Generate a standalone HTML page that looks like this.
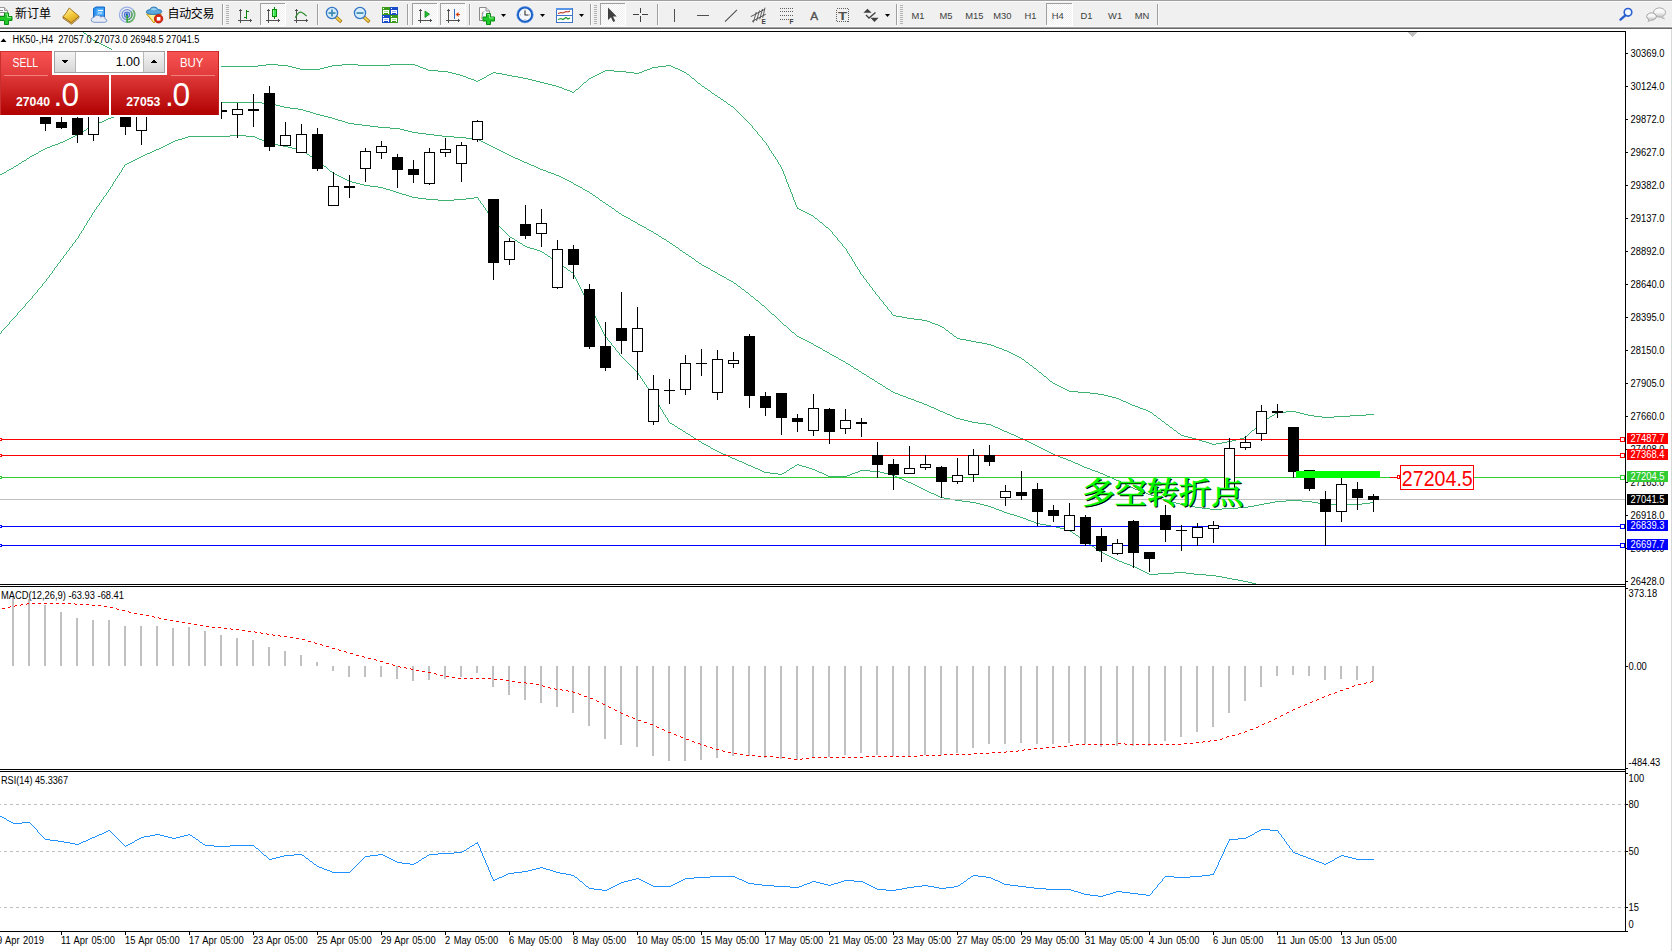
<!DOCTYPE html><html><head><meta charset="utf-8"><title>HK50-,H4</title><style>
html,body{margin:0;padding:0;background:#fff}body{width:1672px;height:951px;overflow:hidden;position:relative}
svg{position:absolute;left:0;top:0;font-family:"Liberation Sans","Noto Sans CJK SC",sans-serif}
.c{shape-rendering:crispEdges}.cn{font-family:"Liberation Sans","Noto Sans CJK SC",sans-serif}
</style></head><body>
<svg width="1672" height="951" viewBox="0 0 1672 951">
<defs>
<linearGradient id="gtab" x1="0" y1="0" x2="0" y2="1"><stop offset="0" stop-color="#f95454"/><stop offset="1" stop-color="#e03a3a"/></linearGradient>
<linearGradient id="gbig" x1="0" y1="0" x2="0" y2="1"><stop offset="0" stop-color="#e03a3a"/><stop offset="1" stop-color="#b00000"/></linearGradient>
<linearGradient id="gbtn" x1="0" y1="0" x2="0" y2="1"><stop offset="0" stop-color="#f4f4f4"/><stop offset="1" stop-color="#d6d6d6"/></linearGradient>
<linearGradient id="gbook" x1="0.2" y1="0" x2="0.8" y2="1"><stop offset="0" stop-color="#fff4a8"/><stop offset="0.5" stop-color="#f2c838"/><stop offset="1" stop-color="#d49a1c"/></linearGradient>
<linearGradient id="gchat" x1="0" y1="0" x2="0" y2="1"><stop offset="0" stop-color="#ffffff"/><stop offset="0.5" stop-color="#f4f4f4"/><stop offset="1" stop-color="#c0c0c0"/></linearGradient>
<clipPath id="cm"><rect x="0" y="32" width="1625" height="552"/></clipPath>
<clipPath id="cd"><rect x="0" y="931" width="1672" height="20"/></clipPath>
<pattern id="chk" width="2" height="2" patternUnits="userSpaceOnUse"><rect width="2" height="2" fill="#fff"/><rect width="1" height="1" fill="#f0f0f0"/><rect x="1" y="1" width="1" height="1" fill="#f0f0f0"/></pattern>
</defs>
<g class="c">
<rect x="0" y="0" width="1672" height="951" fill="#fff" />
<rect x="0" y="0" width="1672" height="26" fill="#f0f0f0" />
<rect x="0" y="0" width="1672" height="1" fill="#a0a0a0" />
<rect x="0" y="1" width="1672" height="1" fill="#fbfbfb" />
<rect x="0" y="26" width="1672" height="1" fill="#f8f8f8" />
<rect x="0" y="27" width="1672" height="1" fill="#a0a0a0" />
<rect x="0" y="28" width="1672" height="1" fill="#696969" />
<rect x="0" y="31" width="1626" height="1" fill="#000" />
<rect x="0" y="584" width="1626" height="1" fill="#000" />
<rect x="0" y="586" width="1626" height="1" fill="#000" />
<rect x="0" y="769" width="1626" height="1" fill="#000" />
<rect x="0" y="771" width="1626" height="1" fill="#000" />
<rect x="0" y="931" width="1626" height="1" fill="#000" />
<rect x="1625" y="31" width="1" height="901" fill="#000" />
<rect x="1671" y="29" width="1" height="922" fill="#d8d8d8" />
<polygon points="1407.5,32 1417,32 1412.2,37" fill="#c0c0c0"/>
</g>
<g clip-path="url(#cm)" class="c">
<path d="M83 32.5h1M84 33.5h2M86 34.5h1M87 35.5h1M88 36.5h1M89 37.5h1M90 38.5h2M92 39.5h1M93 40.5h2M95 41.5h2M97 42.5h2M99 43.5h2M101 44.5h2M103 45.5h2M105 46.5h2M107 47.5h2M109 48.5h2M111 49.5h1M112 50.5h1M113 51.5h1M266 64.5h12M342 64.5h16M390 64.5h25M258 65.5h8M278 65.5h10M332 65.5h10M358 65.5h32M415 65.5h3M666 65.5h5M214 66.5h44M288 66.5h4M328 66.5h4M418 66.5h2M658 66.5h8M671 66.5h2M292 67.5h4M324 67.5h4M420 67.5h3M652 67.5h6M673 67.5h2M296 68.5h4M320 68.5h4M423 68.5h3M650 68.5h2M675 68.5h3M300 69.5h20M426 69.5h2M647 69.5h3M678 69.5h2M428 70.5h10M605 70.5h9M644 70.5h3M680 70.5h2M438 71.5h10M603 71.5h2M614 71.5h12M642 71.5h2M682 71.5h2M448 72.5h4M493 72.5h3M601 72.5h2M626 72.5h8M639 72.5h3M684 72.5h2M452 73.5h4M491 73.5h2M496 73.5h6M599 73.5h2M634 73.5h5M686 73.5h1M456 74.5h4M489 74.5h2M502 74.5h5M597 74.5h2M687 74.5h2M460 75.5h3M487 75.5h2M507 75.5h5M595 75.5h2M689 75.5h1M463 76.5h3M486 76.5h1M512 76.5h6M593 76.5h2M690 76.5h1M466 77.5h2M484 77.5h2M518 77.5h5M591 77.5h2M691 77.5h1M468 78.5h3M482 78.5h2M523 78.5h5M589 78.5h2M692 78.5h2M471 79.5h3M480 79.5h2M528 79.5h4M588 79.5h1M694 79.5h1M474 80.5h2M478 80.5h2M532 80.5h4M587 80.5h1M695 80.5h1M476 81.5h2M536 81.5h4M586 81.5h1M696 81.5h1M540 82.5h4M584 82.5h2M697 82.5h1M544 83.5h4M583 83.5h1M698 83.5h2M548 84.5h4M582 84.5h1M700 84.5h1M552 85.5h4M581 85.5h1M701 85.5h1M556 86.5h3M580 86.5h1M702 86.5h2M559 87.5h3M579 87.5h1M704 87.5h1M562 88.5h2M578 88.5h1M705 88.5h2M564 89.5h3M576 89.5h2M707 89.5h1M567 90.5h3M575 90.5h1M708 90.5h2M570 91.5h2M574 91.5h1M710 91.5h1M572 92.5h2M711 92.5h1M712 93.5h2M714 94.5h1M715 95.5h2M717 96.5h1M718 97.5h2M720 98.5h1M721 99.5h2M723 100.5h1M724 101.5h2M202 102.5h60M726 102.5h1M194 103.5h8M262 103.5h10M727 103.5h1M186 104.5h8M272 104.5h4M728 104.5h2M178 105.5h8M276 105.5h4M730 105.5h1M170 106.5h8M280 106.5h4M731 106.5h2M162 107.5h8M284 107.5h6M733 107.5h1M154 108.5h8M290 108.5h8M734 108.5h1M146 109.5h8M298 109.5h5M735 109.5h1M139 110.5h7M303 110.5h3M736 110.5h1M134 111.5h5M306 111.5h4M737 111.5h1M128 112.5h6M310 112.5h3M738 112.5h1M124 113.5h4M313 113.5h3M739 113.5h1M121 114.5h3M316 114.5h4M740 114.5h1M118 115.5h3M320 115.5h4M741 115.5h1M114 116.5h4M324 116.5h4M742 116.5h1M111 117.5h3M328 117.5h4M743 117.5h1M108 118.5h3M332 118.5h3M744 118.5h1M106 119.5h2M335 119.5h3M745 119.5h1M104 120.5h2M338 120.5h4M746 120.5h1M102 121.5h2M342 121.5h3M747 121.5h1M99 122.5h3M345 122.5h3M748 122.5h1M97 123.5h2M348 123.5h6M749 123.5h1M95 124.5h2M354 124.5h8M750 124.5h1M93 125.5h2M362 125.5h8M751 125.5h1M91 126.5h2M370 126.5h8M752.5 126v2M89 127.5h2M378 127.5h12M87 128.5h2M390 128.5h10M753 128.5h1M86 129.5h1M400 129.5h4M754 129.5h1M84 130.5h2M404 130.5h4M755 130.5h1M82 131.5h2M408 131.5h4M756 131.5h1M80 132.5h2M412 132.5h6M757.5 132v2M78 133.5h2M418 133.5h8M77 134.5h1M426 134.5h8M758 134.5h1M75 135.5h2M230 135.5h16M434 135.5h8M759 135.5h1M73 136.5h2M188 136.5h42M246 136.5h9M442 136.5h12M760 136.5h1M71 137.5h2M185 137.5h3M255 137.5h2M454 137.5h12M761 137.5h1M69 138.5h2M182 138.5h3M257 138.5h2M466 138.5h8M762.5 138v2M67 139.5h2M178 139.5h4M259 139.5h3M474 139.5h5M65 140.5h2M175 140.5h3M262 140.5h2M479 140.5h2M763 140.5h1M63 141.5h2M173 141.5h2M264 141.5h2M481 141.5h2M764 141.5h1M60 142.5h3M171 142.5h2M266 142.5h2M483 142.5h2M765 142.5h1M58 143.5h2M169 143.5h2M268 143.5h4M485 143.5h2M766.5 143v2M55 144.5h3M167 144.5h2M272 144.5h6M487 144.5h2M52 145.5h3M165 145.5h2M278 145.5h5M489 145.5h2M767 145.5h1M50 146.5h2M163 146.5h2M283 146.5h5M491 146.5h2M768.5 146v2M47 147.5h3M161 147.5h2M288 147.5h4M493 147.5h2M45 148.5h2M159 148.5h2M292 148.5h4M495 148.5h2M769.5 148v2M43 149.5h2M156 149.5h3M296 149.5h4M497 149.5h2M41 150.5h2M154 150.5h2M300 150.5h2M499 150.5h2M770 150.5h1M39 151.5h2M152 151.5h2M302 151.5h2M501 151.5h2M771.5 151v2M38 152.5h1M150 152.5h2M304 152.5h2M503 152.5h2M36 153.5h2M147 153.5h3M306 153.5h1M505 153.5h2M772 153.5h1M34 154.5h2M145 154.5h2M307 154.5h2M507 154.5h2M773.5 154v2M32 155.5h2M143 155.5h2M309 155.5h1M509 155.5h2M30 156.5h2M141 156.5h2M310 156.5h2M511 156.5h2M774 156.5h1M29 157.5h1M139 157.5h2M312 157.5h2M513 157.5h2M775.5 157v2M27 158.5h2M137 158.5h2M314 158.5h1M515 158.5h3M26 159.5h1M135 159.5h2M315 159.5h2M518 159.5h2M776 159.5h1M24 160.5h2M133 160.5h2M317 160.5h1M520 160.5h2M777.5 160v2M22 161.5h2M131 161.5h2M318 161.5h1M522 161.5h2M21 162.5h1M129 162.5h2M319 162.5h2M524 162.5h3M778.5 162v2M19 163.5h2M127 163.5h2M321 163.5h1M527 163.5h2M18 164.5h1M125 164.5h2M322 164.5h1M529 164.5h2M779 164.5h1M16 165.5h2M124.5 165v2M323 165.5h1M531 165.5h3M780.5 165v2M14 166.5h2M324 166.5h2M534 166.5h2M13 167.5h1M123 167.5h1M326 167.5h1M536 167.5h2M781.5 167v2M11 168.5h2M122.5 168v2M327 168.5h1M538 168.5h2M9 169.5h2M328 169.5h1M540 169.5h3M782.5 169v2M7 170.5h2M121.5 170v2M329 170.5h1M543 170.5h3M6 171.5h1M330 171.5h2M546 171.5h2M783.5 171v3M4 172.5h2M120 172.5h1M332 172.5h1M548 172.5h3M2 173.5h2M119.5 173v2M333 173.5h2M551 173.5h3M0 174.5h2M335 174.5h2M554 174.5h2M784.5 174v2M118 175.5h1M337 175.5h2M556 175.5h3M117.5 176v2M339 176.5h2M559 176.5h2M785.5 176v3M341 177.5h2M561 177.5h2M116 178.5h1M343 178.5h2M563 178.5h2M115.5 179v2M345 179.5h2M565 179.5h2M786.5 179v3M347 180.5h2M567 180.5h2M114 181.5h1M349 181.5h3M569 181.5h2M113.5 182v2M352 182.5h4M571 182.5h2M787.5 182v2M356 183.5h4M573 183.5h1M112.5 184v2M360 184.5h4M574 184.5h2M788.5 184v3M364 185.5h6M576 185.5h2M111 186.5h1M370 186.5h8M578 186.5h2M110.5 187v2M378 187.5h5M580 187.5h2M789.5 187v2M383 188.5h3M582 188.5h1M109 189.5h1M386 189.5h4M583 189.5h2M790.5 189v3M108.5 190v2M390 190.5h3M585 190.5h2M393 191.5h3M587 191.5h2M107 192.5h1M396 192.5h3M589 192.5h1M791.5 192v2M106.5 193v2M399 193.5h3M590 193.5h2M402 194.5h4M592 194.5h1M792.5 194v3M105 195.5h1M406 195.5h3M593 195.5h2M104 196.5h1M409 196.5h3M595 196.5h1M103.5 197v2M412 197.5h6M474 197.5h4M596 197.5h2M793.5 197v3M418 198.5h8M466 198.5h8M478.5 198v2M598 198.5h1M102 199.5h1M426 199.5h12M454 199.5h12M599 199.5h1M101.5 200v2M438 200.5h16M479 200.5h1M600 200.5h2M794.5 200v2M480.5 201v2M602 201.5h1M100 202.5h1M603 202.5h2M795.5 202v3M99.5 203v2M481 203.5h1M605 203.5h1M482 204.5h1M606 204.5h2M98 205.5h1M483.5 205v2M608 205.5h1M796.5 205v2M97 206.5h1M609 206.5h2M96.5 207v2M484 207.5h1M611 207.5h1M797.5 207v2M485.5 208v2M612 208.5h2M798 208.5h1M95 209.5h1M614 209.5h1M799 209.5h2M94.5 210v2M486 210.5h1M615 210.5h1M801 210.5h2M487.5 211v2M616 211.5h2M803 211.5h2M93 212.5h1M618 212.5h1M805 212.5h2M92.5 213v2M488 213.5h1M619 213.5h2M807 213.5h2M489 214.5h1M621 214.5h1M809 214.5h2M91.5 215v2M490.5 215v2M622 215.5h2M811 215.5h2M624 216.5h2M813 216.5h1M90 217.5h1M491 217.5h1M626 217.5h2M814 217.5h1M89.5 218v2M492.5 218v2M628 218.5h2M815 218.5h2M630 219.5h1M817 219.5h1M88 220.5h1M493 220.5h1M631 220.5h2M818 220.5h1M87.5 221v2M494 221.5h1M633 221.5h2M819 221.5h1M495 222.5h1M635 222.5h2M820 222.5h2M86.5 223v2M496 223.5h1M637 223.5h1M822 223.5h1M497 224.5h1M638 224.5h2M823 224.5h1M85 225.5h1M498 225.5h1M640 225.5h2M824 225.5h1M84.5 226v2M499 226.5h1M642 226.5h2M825 226.5h1M500 227.5h1M644 227.5h2M826 227.5h2M83.5 228v2M501 228.5h1M646 228.5h1M828 228.5h1M502 229.5h1M647 229.5h2M829 229.5h1M82 230.5h1M503 230.5h1M649 230.5h2M830 230.5h1M81.5 231v2M504 231.5h1M651 231.5h2M831 231.5h1M505 232.5h1M653 232.5h1M832.5 232v2M80 233.5h1M506 233.5h1M654 233.5h2M79.5 234v2M507 234.5h1M656 234.5h2M833 234.5h1M508 235.5h1M658 235.5h1M834 235.5h1M78.5 236v2M509 236.5h1M659 236.5h2M835 236.5h1M510 237.5h2M661 237.5h1M836 237.5h1M77 238.5h1M512 238.5h2M662 238.5h2M837.5 238v2M76 239.5h1M514 239.5h1M664 239.5h2M75.5 240v2M515 240.5h2M666 240.5h1M838 240.5h1M517 241.5h1M667 241.5h2M839 241.5h1M74 242.5h1M518 242.5h2M669 242.5h1M840 242.5h1M73 243.5h1M520 243.5h2M670 243.5h2M841 243.5h1M72.5 244v2M522 244.5h1M672 244.5h1M842.5 244v2M523 245.5h2M673 245.5h2M71 246.5h1M525 246.5h2M675 246.5h1M843 246.5h1M70 247.5h1M527 247.5h3M676 247.5h2M844 247.5h1M69.5 248v2M530 248.5h4M678 248.5h1M845 248.5h1M534 249.5h3M679 249.5h1M846.5 249v2M68 250.5h1M537 250.5h3M680 250.5h2M67 251.5h1M540 251.5h2M682 251.5h1M847.5 251v2M66.5 252v2M542 252.5h2M683 252.5h2M544 253.5h1M685 253.5h1M848 253.5h1M65 254.5h1M545 254.5h2M686 254.5h2M849.5 254v2M64 255.5h1M547 255.5h1M688 255.5h1M63.5 256v2M548 256.5h2M689 256.5h2M850 256.5h1M550 257.5h1M691 257.5h1M851.5 257v2M62 258.5h1M551 258.5h1M692 258.5h2M61 259.5h1M552 259.5h2M694 259.5h1M852.5 259v2M60.5 260v2M554 260.5h1M695 260.5h1M555 261.5h2M696 261.5h2M853 261.5h1M59 262.5h1M557 262.5h1M698 262.5h1M854.5 262v2M58 263.5h1M558 263.5h2M699 263.5h2M57.5 264v2M560 264.5h1M701 264.5h1M855.5 264v2M561 265.5h2M702 265.5h2M56 266.5h1M563 266.5h1M704 266.5h2M856 266.5h1M55 267.5h1M564 267.5h2M706 267.5h2M857.5 267v2M54.5 268v2M566 268.5h1M708 268.5h2M567 269.5h1M710 269.5h1M858 269.5h1M53 270.5h1M568 270.5h2M711 270.5h2M859.5 270v2M52.5 271v2M570 271.5h1M713 271.5h2M571 272.5h2M715 272.5h2M860.5 272v2M51 273.5h1M573.5 273v2M717 273.5h1M50 274.5h1M718 274.5h2M861 274.5h1M49.5 275v2M574.5 275v2M720 275.5h2M862 275.5h1M722 276.5h2M863.5 276v2M48 277.5h1M575.5 277v2M724 277.5h2M47 278.5h1M726 278.5h1M864 278.5h1M46.5 279v2M576.5 279v2M727 279.5h2M865 279.5h1M729 280.5h2M866.5 280v2M45 281.5h1M577.5 281v2M731 281.5h2M44 282.5h1M733 282.5h1M867 282.5h1M43 283.5h1M578.5 283v2M734 283.5h2M868 283.5h1M42.5 284v2M736 284.5h1M869.5 284v2M579.5 285v2M737 285.5h1M41 286.5h1M738 286.5h2M870 286.5h1M40 287.5h1M580.5 287v2M740 287.5h1M871 287.5h1M39 288.5h1M741 288.5h1M872.5 288v2M38 289.5h1M581.5 289v2M742 289.5h2M37.5 290v2M744 290.5h1M873 290.5h1M582.5 291v2M745 291.5h1M874 291.5h1M36 292.5h1M746 292.5h2M875.5 292v2M35 293.5h1M583.5 293v2M748 293.5h1M34 294.5h1M749 294.5h1M876 294.5h1M33 295.5h1M584.5 295v2M750 295.5h1M877 295.5h1M32.5 296v2M751 296.5h2M878 296.5h1M585.5 297v2M753 297.5h1M879.5 297v2M31 298.5h1M754 298.5h1M30 299.5h1M586.5 299v2M755 299.5h1M880 299.5h1M29 300.5h1M756 300.5h2M881 300.5h1M28 301.5h1M587.5 301v2M758 301.5h1M882 301.5h1M27 302.5h1M759 302.5h1M883.5 302v2M26 303.5h1M588.5 303v2M760 303.5h1M25.5 304v2M761 304.5h1M884 304.5h1M589 305.5h1M762 305.5h2M885 305.5h1M24 306.5h1M590.5 306v2M764 306.5h1M886 306.5h1M23 307.5h1M765 307.5h1M887.5 307v2M22 308.5h1M591.5 308v2M766 308.5h1M21 309.5h1M767 309.5h1M888 309.5h1M20 310.5h1M592.5 310v2M768 310.5h1M889 310.5h1M19 311.5h1M769 311.5h1M890 311.5h1M18 312.5h1M593.5 312v2M770 312.5h1M891.5 312v2M17.5 313v2M771 313.5h1M594.5 314v2M772 314.5h2M892 314.5h1M16 315.5h1M774 315.5h1M893 315.5h3M15 316.5h1M595.5 316v2M775 316.5h1M896 316.5h6M14 317.5h1M776 317.5h1M902 317.5h5M13 318.5h1M596.5 318v2M777 318.5h1M907 318.5h7M12 319.5h1M778 319.5h1M914 319.5h8M11 320.5h1M597.5 320v2M779 320.5h1M922 320.5h5M10 321.5h1M780 321.5h1M927 321.5h3M9.5 322v2M598.5 322v2M781 322.5h1M930 322.5h2M782 323.5h1M932 323.5h3M8 324.5h1M599.5 324v2M783 324.5h1M935 324.5h3M7 325.5h1M784 325.5h2M938 325.5h2M6 326.5h1M600.5 326v2M786 326.5h1M940 326.5h2M5 327.5h1M787 327.5h1M942 327.5h2M4 328.5h1M601.5 328v2M788 328.5h1M944 328.5h1M3 329.5h1M789 329.5h1M945 329.5h1M2 330.5h1M602.5 330v2M790 330.5h1M946 330.5h2M1.5 331v2M791 331.5h1M948 331.5h1M603.5 332v2M792 332.5h2M949 332.5h1M0 333.5h1M794 333.5h1M950 333.5h2M604.5 334v2M795 334.5h1M952 334.5h1M796 335.5h1M953 335.5h1M605 336.5h1M797 336.5h2M954 336.5h2M606 337.5h1M799 337.5h2M956 337.5h1M607.5 338v2M801 338.5h2M957 338.5h3M803 339.5h2M960 339.5h6M608 340.5h1M805 340.5h2M966 340.5h5M609 341.5h1M807 341.5h2M971 341.5h5M610 342.5h1M809 342.5h2M976 342.5h6M611.5 343v2M811 343.5h2M982 343.5h5M813 344.5h1M987 344.5h4M612 345.5h1M814 345.5h2M991 345.5h3M613 346.5h1M816 346.5h2M994 346.5h2M614 347.5h1M818 347.5h2M996 347.5h3M615.5 348v2M820 348.5h2M999 348.5h3M822 349.5h1M1002 349.5h2M616 350.5h1M823 350.5h2M1004 350.5h3M617 351.5h1M825 351.5h2M1007 351.5h2M618 352.5h1M827 352.5h2M1009 352.5h2M619.5 353v2M829 353.5h1M1011 353.5h2M830 354.5h2M1013 354.5h2M620 355.5h1M832 355.5h2M1015 355.5h2M621 356.5h1M834 356.5h2M1017 356.5h2M622 357.5h1M836 357.5h2M1019 357.5h2M623 358.5h1M838 358.5h1M1021 358.5h1M624 359.5h1M839 359.5h2M1022 359.5h2M625 360.5h1M841 360.5h2M1024 360.5h1M626 361.5h1M843 361.5h2M1025 361.5h1M627 362.5h1M845 362.5h1M1026 362.5h2M628 363.5h1M846 363.5h2M1028 363.5h1M629 364.5h1M848 364.5h2M1029 364.5h1M630 365.5h1M850 365.5h1M1030 365.5h2M631 366.5h1M851 366.5h2M1032 366.5h1M632 367.5h1M853 367.5h1M1033 367.5h1M633 368.5h1M854 368.5h2M1034 368.5h2M634 369.5h1M856 369.5h2M1036 369.5h1M635 370.5h1M858 370.5h1M1037 370.5h1M636 371.5h1M859 371.5h2M1038 371.5h1M637 372.5h1M861 372.5h1M1039 372.5h2M638.5 373v2M862 373.5h2M1041 373.5h1M864 374.5h2M1042 374.5h1M639 375.5h1M866 375.5h1M1043 375.5h1M640.5 376v2M867 376.5h2M1044 376.5h2M869 377.5h1M1046 377.5h1M641 378.5h1M870 378.5h2M1047 378.5h1M642.5 379v2M872 379.5h2M1048 379.5h1M874 380.5h1M1049 380.5h1M643 381.5h1M875 381.5h2M1050 381.5h2M644.5 382v2M877 382.5h1M1052 382.5h1M878 383.5h2M1053 383.5h2M645 384.5h1M880 384.5h2M1055 384.5h2M646.5 385v2M882 385.5h1M1057 385.5h2M883 386.5h2M1059 386.5h2M647 387.5h1M885 387.5h1M1061 387.5h2M648.5 388v2M886 388.5h2M1063 388.5h2M888 389.5h2M1065 389.5h2M649 390.5h1M890 390.5h1M1067 390.5h2M650.5 391v2M891 391.5h2M1069 391.5h9M893 392.5h2M1078 392.5h12M651 393.5h1M895 393.5h3M1090 393.5h8M652.5 394v2M898 394.5h2M1098 394.5h6M900 395.5h3M1104 395.5h4M653 396.5h1M903 396.5h3M1108 396.5h4M654.5 397v2M906 397.5h2M1112 397.5h4M908 398.5h3M1116 398.5h3M655.5 399v2M911 399.5h3M1119 399.5h2M914 400.5h2M1121 400.5h2M656 401.5h1M916 401.5h3M1123 401.5h3M657.5 402v2M919 402.5h3M1126 402.5h2M922 403.5h2M1128 403.5h2M658 404.5h1M924 404.5h3M1130 404.5h2M659.5 405v2M927 405.5h2M1132 405.5h3M929 406.5h2M1135 406.5h3M660.5 407v2M931 407.5h3M1138 407.5h2M934 408.5h2M1140 408.5h3M661 409.5h1M936 409.5h2M1143 409.5h3M662.5 410v2M938 410.5h2M1146 410.5h2M940 411.5h3M1148 411.5h2M1286 411.5h10M663.5 412v2M943 412.5h2M1150 412.5h2M1277 412.5h9M1296 412.5h4M945 413.5h2M1152 413.5h1M1275 413.5h2M1300 413.5h4M664 414.5h1M947 414.5h3M1153 414.5h1M1274 414.5h1M1304 414.5h4M1366 414.5h8M665.5 415v2M950 415.5h2M1154 415.5h2M1272 415.5h2M1308 415.5h6M1350 415.5h16M952 416.5h2M1156 416.5h1M1270 416.5h2M1314 416.5h8M1334 416.5h16M666 417.5h1M954 417.5h2M1157 417.5h1M1269 417.5h1M1322 417.5h12M667.5 418v2M956 418.5h4M1158 418.5h2M1267 418.5h2M960 419.5h4M1160 419.5h1M1266 419.5h1M668.5 420v2M964 420.5h4M1161 420.5h1M1264 420.5h2M968 421.5h4M1162 421.5h2M1262 421.5h2M669 422.5h1M972 422.5h6M1164 422.5h1M1261 422.5h1M670 423.5h2M978 423.5h8M1165 423.5h1M1260 423.5h1M672 424.5h2M986 424.5h5M1166 424.5h2M1259 424.5h1M674 425.5h1M991 425.5h2M1168 425.5h1M1258 425.5h1M675 426.5h2M993 426.5h2M1169 426.5h1M1257 426.5h1M677 427.5h1M995 427.5h3M1170 427.5h2M1256 427.5h1M678 428.5h2M998 428.5h2M1172 428.5h1M1255 428.5h1M680 429.5h2M1000 429.5h2M1173 429.5h1M1254 429.5h1M682 430.5h1M1002 430.5h2M1174 430.5h2M1252 430.5h2M683 431.5h2M1004 431.5h3M1176 431.5h1M1251 431.5h1M685 432.5h1M1007 432.5h2M1177 432.5h1M1250 432.5h1M686 433.5h2M1009 433.5h2M1178 433.5h2M1249 433.5h1M688 434.5h2M1011 434.5h3M1180 434.5h1M1248 434.5h1M690 435.5h1M1014 435.5h2M1181 435.5h3M1247 435.5h1M691 436.5h2M1016 436.5h2M1184 436.5h4M1246 436.5h1M693 437.5h1M1018 437.5h2M1188 437.5h4M1244 437.5h2M694 438.5h2M1020 438.5h3M1192 438.5h4M1240 438.5h4M696 439.5h2M1023 439.5h2M1196 439.5h3M1236 439.5h4M698 440.5h1M1025 440.5h2M1199 440.5h3M1232 440.5h4M699 441.5h2M1027 441.5h2M1202 441.5h4M1227 441.5h5M701 442.5h1M1029 442.5h2M1206 442.5h3M1222 442.5h5M702 443.5h2M1031 443.5h2M1209 443.5h3M1216 443.5h6M704 444.5h2M1033 444.5h2M1212 444.5h4M706 445.5h2M1035 445.5h2M708 446.5h2M1037 446.5h2M710 447.5h1M1039 447.5h2M711 448.5h2M1041 448.5h2M713 449.5h2M1043 449.5h2M715 450.5h2M1045 450.5h2M717 451.5h2M1047 451.5h2M719 452.5h2M1049 452.5h2M721 453.5h2M1051 453.5h2M723 454.5h3M1053 454.5h2M726 455.5h2M1055 455.5h3M728 456.5h2M1058 456.5h2M730 457.5h2M1060 457.5h3M732 458.5h3M1063 458.5h3M735 459.5h2M1066 459.5h2M737 460.5h2M1068 460.5h3M739 461.5h3M1071 461.5h2M742 462.5h2M1073 462.5h2M744 463.5h2M1075 463.5h3M746 464.5h2M797 464.5h2M1078 464.5h2M748 465.5h3M795 465.5h2M799 465.5h3M1080 465.5h2M751 466.5h2M794 466.5h1M802 466.5h4M1082 466.5h2M753 467.5h2M792 467.5h2M806 467.5h3M1084 467.5h3M755 468.5h3M790 468.5h2M809 468.5h3M1087 468.5h3M758 469.5h2M789 469.5h1M812 469.5h3M1090 469.5h2M760 470.5h2M787 470.5h2M815 470.5h2M860 470.5h10M1092 470.5h3M762 471.5h2M786 471.5h1M817 471.5h2M858 471.5h2M870 471.5h10M1095 471.5h3M764 472.5h6M784 472.5h2M819 472.5h3M855 472.5h3M880 472.5h4M1098 472.5h2M770 473.5h8M782 473.5h2M822 473.5h2M852 473.5h3M884 473.5h4M1100 473.5h3M778 474.5h4M824 474.5h2M850 474.5h2M888 474.5h4M1103 474.5h2M826 475.5h2M847 475.5h3M892 475.5h3M1105 475.5h2M828 476.5h19M895 476.5h2M1107 476.5h3M897 477.5h2M1110 477.5h2M899 478.5h3M1112 478.5h2M902 479.5h2M1114 479.5h2M904 480.5h2M1116 480.5h3M906 481.5h2M1119 481.5h2M908 482.5h3M1121 482.5h2M911 483.5h2M1123 483.5h2M913 484.5h2M1125 484.5h2M915 485.5h2M1127 485.5h2M917 486.5h2M1129 486.5h2M919 487.5h2M1131 487.5h2M921 488.5h2M1133 488.5h2M923 489.5h2M1135 489.5h3M925 490.5h2M1138 490.5h2M927 491.5h2M1140 491.5h3M929 492.5h2M1143 492.5h3M931 493.5h3M1146 493.5h2M934 494.5h2M1148 494.5h3M936 495.5h2M1151 495.5h3M938 496.5h2M1154 496.5h2M940 497.5h4M1156 497.5h3M944 498.5h6M1159 498.5h3M950 499.5h5M1162 499.5h2M955 500.5h7M1164 500.5h4M1286 500.5h16M962 501.5h8M1168 501.5h4M1275 501.5h11M1302 501.5h10M970 502.5h6M1172 502.5h4M1270 502.5h5M1312 502.5h6M1370 502.5h4M976 503.5h4M1176 503.5h4M1264 503.5h6M1318 503.5h5M1362 503.5h8M980 504.5h4M1180 504.5h4M1259 504.5h5M1323 504.5h39M984 505.5h4M1184 505.5h6M1254 505.5h5M988 506.5h3M1190 506.5h5M1248 506.5h6M991 507.5h3M1195 507.5h7M1238 507.5h10M994 508.5h2M1202 508.5h8M1222 508.5h16M996 509.5h3M1210 509.5h12M999 510.5h3M1002 511.5h2M1004 512.5h3M1007 513.5h3M1010 514.5h4M1014 515.5h3M1017 516.5h3M1020 517.5h3M1023 518.5h3M1026 519.5h2M1028 520.5h3M1031 521.5h3M1034 522.5h2M1036 523.5h4M1040 524.5h6M1046 525.5h5M1051 526.5h5M1056 527.5h4M1060 528.5h4M1064 529.5h4M1068 530.5h2M1070 531.5h2M1072 532.5h1M1073 533.5h2M1075 534.5h1M1076 535.5h2M1078 536.5h1M1079 537.5h1M1080 538.5h2M1082 539.5h1M1083 540.5h2M1085 541.5h1M1086 542.5h2M1088 543.5h1M1089 544.5h2M1091 545.5h1M1092 546.5h2M1094 547.5h1M1095 548.5h1M1096 549.5h2M1098 550.5h1M1099 551.5h2M1101 552.5h2M1103 553.5h2M1105 554.5h2M1107 555.5h2M1109 556.5h2M1111 557.5h2M1113 558.5h2M1115 559.5h2M1117 560.5h2M1119 561.5h3M1122 562.5h2M1124 563.5h3M1127 564.5h3M1130 565.5h2M1132 566.5h3M1135 567.5h2M1137 568.5h2M1139 569.5h2M1141 570.5h2M1143 571.5h2M1145 572.5h2M1174 572.5h12M1147 573.5h2M1158 573.5h16M1186 573.5h8M1149 574.5h9M1194 574.5h12M1206 575.5h10M1216 576.5h6M1222 577.5h5M1227 578.5h5M1232 579.5h6M1238 580.5h5M1243 581.5h5M1248 582.5h4M1252 583.5h4" fill="none" stroke="#3cb371"/>
<rect x="0" y="499" width="1625" height="1" fill="#c0c0c0" />
<rect x="0" y="439" width="1625" height="1" fill="#ff0000" />
<rect x="0" y="455" width="1625" height="1" fill="#ff0000" />
<rect x="0" y="477" width="1625" height="1" fill="#32cd32" />
<rect x="0" y="526" width="1625" height="1" fill="#0000ff" />
<rect x="0" y="545" width="1625" height="1" fill="#0000ff" />
<rect x="45" y="100" width="1" height="31" fill="#000" />
<rect x="40" y="100" width="11" height="24" fill="#000" />
<rect x="61" y="117" width="1" height="12" fill="#000" />
<rect x="56" y="122" width="11" height="6" fill="#000" />
<rect x="77" y="110" width="1" height="33" fill="#000" />
<rect x="72" y="118" width="11" height="17" fill="#000" />
<rect x="93" y="100" width="1" height="41" fill="#000" />
<rect x="88" y="100" width="11" height="35" fill="#000" />
<rect x="89" y="101" width="9" height="33" fill="#fff" />
<rect x="125" y="100" width="1" height="35" fill="#000" />
<rect x="120" y="100" width="11" height="27" fill="#000" />
<rect x="141" y="100" width="1" height="45" fill="#000" />
<rect x="136" y="100" width="11" height="31" fill="#000" />
<rect x="137" y="101" width="9" height="29" fill="#fff" />
<rect x="221" y="102" width="1" height="17" fill="#000" />
<rect x="216" y="110" width="11" height="2" fill="#000" />
<rect x="237" y="103" width="1" height="35" fill="#000" />
<rect x="232" y="109" width="11" height="6" fill="#000" />
<rect x="233" y="110" width="9" height="4" fill="#fff" />
<rect x="253" y="94" width="1" height="33" fill="#000" />
<rect x="248" y="109" width="11" height="2" fill="#000" />
<rect x="269" y="86" width="1" height="65" fill="#000" />
<rect x="264" y="93" width="11" height="54" fill="#000" />
<rect x="285" y="122" width="1" height="24" fill="#000" />
<rect x="280" y="135" width="11" height="11" fill="#000" />
<rect x="281" y="136" width="9" height="9" fill="#fff" />
<rect x="301" y="124" width="1" height="29" fill="#000" />
<rect x="296" y="134" width="11" height="19" fill="#000" />
<rect x="297" y="135" width="9" height="17" fill="#fff" />
<rect x="317" y="128" width="1" height="43" fill="#000" />
<rect x="312" y="134" width="11" height="35" fill="#000" />
<rect x="333" y="172" width="1" height="34" fill="#000" />
<rect x="328" y="186" width="11" height="20" fill="#000" />
<rect x="329" y="187" width="9" height="18" fill="#fff" />
<rect x="349" y="175" width="1" height="23" fill="#000" />
<rect x="344" y="186" width="11" height="2" fill="#000" />
<rect x="365" y="148" width="1" height="34" fill="#000" />
<rect x="360" y="151" width="11" height="18" fill="#000" />
<rect x="361" y="152" width="9" height="16" fill="#fff" />
<rect x="381" y="141" width="1" height="18" fill="#000" />
<rect x="376" y="146" width="11" height="7" fill="#000" />
<rect x="377" y="147" width="9" height="5" fill="#fff" />
<rect x="397" y="154" width="1" height="34" fill="#000" />
<rect x="392" y="157" width="11" height="13" fill="#000" />
<rect x="413" y="160" width="1" height="23" fill="#000" />
<rect x="408" y="169" width="11" height="6" fill="#000" />
<rect x="429" y="148" width="1" height="37" fill="#000" />
<rect x="424" y="152" width="11" height="32" fill="#000" />
<rect x="425" y="153" width="9" height="30" fill="#fff" />
<rect x="445" y="138" width="1" height="19" fill="#000" />
<rect x="440" y="149" width="11" height="4" fill="#000" />
<rect x="441" y="150" width="9" height="2" fill="#fff" />
<rect x="461" y="142" width="1" height="40" fill="#000" />
<rect x="456" y="145" width="11" height="19" fill="#000" />
<rect x="457" y="146" width="9" height="17" fill="#fff" />
<rect x="477" y="120" width="1" height="22" fill="#000" />
<rect x="472" y="121" width="11" height="19" fill="#000" />
<rect x="473" y="122" width="9" height="17" fill="#fff" />
<rect x="493" y="199" width="1" height="81" fill="#000" />
<rect x="488" y="199" width="11" height="64" fill="#000" />
<rect x="509" y="238" width="1" height="27" fill="#000" />
<rect x="504" y="241" width="11" height="19" fill="#000" />
<rect x="505" y="242" width="9" height="17" fill="#fff" />
<rect x="525" y="205" width="1" height="34" fill="#000" />
<rect x="520" y="224" width="11" height="12" fill="#000" />
<rect x="541" y="209" width="1" height="38" fill="#000" />
<rect x="536" y="223" width="11" height="11" fill="#000" />
<rect x="537" y="224" width="9" height="9" fill="#fff" />
<rect x="557" y="240" width="1" height="49" fill="#000" />
<rect x="552" y="249" width="11" height="39" fill="#000" />
<rect x="553" y="250" width="9" height="37" fill="#fff" />
<rect x="573" y="245" width="1" height="34" fill="#000" />
<rect x="568" y="249" width="11" height="16" fill="#000" />
<rect x="589" y="284" width="1" height="65" fill="#000" />
<rect x="584" y="289" width="11" height="58" fill="#000" />
<rect x="605" y="322" width="1" height="49" fill="#000" />
<rect x="600" y="346" width="11" height="22" fill="#000" />
<rect x="621" y="292" width="1" height="62" fill="#000" />
<rect x="616" y="328" width="11" height="13" fill="#000" />
<rect x="637" y="307" width="1" height="73" fill="#000" />
<rect x="632" y="328" width="11" height="24" fill="#000" />
<rect x="633" y="329" width="9" height="22" fill="#fff" />
<rect x="653" y="375" width="1" height="50" fill="#000" />
<rect x="648" y="389" width="11" height="33" fill="#000" />
<rect x="649" y="390" width="9" height="31" fill="#fff" />
<rect x="669" y="379" width="1" height="25" fill="#000" />
<rect x="664" y="390" width="11" height="1" fill="#000" />
<rect x="685" y="355" width="1" height="40" fill="#000" />
<rect x="680" y="363" width="11" height="27" fill="#000" />
<rect x="681" y="364" width="9" height="25" fill="#fff" />
<rect x="701" y="349" width="1" height="27" fill="#000" />
<rect x="696" y="363" width="11" height="1" fill="#000" />
<rect x="717" y="350" width="1" height="50" fill="#000" />
<rect x="712" y="359" width="11" height="34" fill="#000" />
<rect x="713" y="360" width="9" height="32" fill="#fff" />
<rect x="733" y="352" width="1" height="16" fill="#000" />
<rect x="728" y="360" width="11" height="4" fill="#000" />
<rect x="729" y="361" width="9" height="2" fill="#fff" />
<rect x="749" y="334" width="1" height="74" fill="#000" />
<rect x="744" y="336" width="11" height="60" fill="#000" />
<rect x="765" y="392" width="1" height="24" fill="#000" />
<rect x="760" y="396" width="11" height="12" fill="#000" />
<rect x="781" y="393" width="1" height="42" fill="#000" />
<rect x="776" y="393" width="11" height="25" fill="#000" />
<rect x="797" y="414" width="1" height="18" fill="#000" />
<rect x="792" y="418" width="11" height="4" fill="#000" />
<rect x="813" y="394" width="1" height="42" fill="#000" />
<rect x="808" y="408" width="11" height="23" fill="#000" />
<rect x="809" y="409" width="9" height="21" fill="#fff" />
<rect x="829" y="408" width="1" height="36" fill="#000" />
<rect x="824" y="409" width="11" height="23" fill="#000" />
<rect x="845" y="409" width="1" height="25" fill="#000" />
<rect x="840" y="420" width="11" height="9" fill="#000" />
<rect x="841" y="421" width="9" height="7" fill="#fff" />
<rect x="861" y="418" width="1" height="19" fill="#000" />
<rect x="856" y="422" width="11" height="2" fill="#000" />
<rect x="877" y="442" width="1" height="36" fill="#000" />
<rect x="872" y="455" width="11" height="10" fill="#000" />
<rect x="893" y="459" width="1" height="31" fill="#000" />
<rect x="888" y="464" width="11" height="11" fill="#000" />
<rect x="909" y="446" width="1" height="28" fill="#000" />
<rect x="904" y="468" width="11" height="6" fill="#000" />
<rect x="905" y="469" width="9" height="4" fill="#fff" />
<rect x="925" y="455" width="1" height="15" fill="#000" />
<rect x="920" y="464" width="11" height="4" fill="#000" />
<rect x="921" y="465" width="9" height="2" fill="#fff" />
<rect x="941" y="466" width="1" height="32" fill="#000" />
<rect x="936" y="467" width="11" height="15" fill="#000" />
<rect x="957" y="458" width="1" height="26" fill="#000" />
<rect x="952" y="475" width="11" height="7" fill="#000" />
<rect x="953" y="476" width="9" height="5" fill="#fff" />
<rect x="973" y="449" width="1" height="33" fill="#000" />
<rect x="968" y="455" width="11" height="20" fill="#000" />
<rect x="969" y="456" width="9" height="18" fill="#fff" />
<rect x="989" y="445" width="1" height="21" fill="#000" />
<rect x="984" y="455" width="11" height="7" fill="#000" />
<rect x="1005" y="485" width="1" height="21" fill="#000" />
<rect x="1000" y="491" width="11" height="7" fill="#000" />
<rect x="1001" y="492" width="9" height="5" fill="#fff" />
<rect x="1021" y="471" width="1" height="29" fill="#000" />
<rect x="1016" y="492" width="11" height="4" fill="#000" />
<rect x="1037" y="483" width="1" height="43" fill="#000" />
<rect x="1032" y="489" width="11" height="23" fill="#000" />
<rect x="1053" y="505" width="1" height="17" fill="#000" />
<rect x="1048" y="510" width="11" height="6" fill="#000" />
<rect x="1069" y="503" width="1" height="28" fill="#000" />
<rect x="1064" y="515" width="11" height="16" fill="#000" />
<rect x="1065" y="516" width="9" height="14" fill="#fff" />
<rect x="1085" y="515" width="1" height="31" fill="#000" />
<rect x="1080" y="517" width="11" height="27" fill="#000" />
<rect x="1101" y="528" width="1" height="34" fill="#000" />
<rect x="1096" y="536" width="11" height="15" fill="#000" />
<rect x="1117" y="539" width="1" height="16" fill="#000" />
<rect x="1112" y="543" width="11" height="11" fill="#000" />
<rect x="1113" y="544" width="9" height="9" fill="#fff" />
<rect x="1133" y="520" width="1" height="48" fill="#000" />
<rect x="1128" y="521" width="11" height="32" fill="#000" />
<rect x="1149" y="552" width="1" height="20" fill="#000" />
<rect x="1144" y="552" width="11" height="7" fill="#000" />
<rect x="1165" y="505" width="1" height="37" fill="#000" />
<rect x="1160" y="515" width="11" height="15" fill="#000" />
<rect x="1181" y="525" width="1" height="26" fill="#000" />
<rect x="1176" y="530" width="11" height="1" fill="#000" />
<rect x="1197" y="523" width="1" height="23" fill="#000" />
<rect x="1192" y="527" width="11" height="11" fill="#000" />
<rect x="1193" y="528" width="9" height="9" fill="#fff" />
<rect x="1213" y="521" width="1" height="22" fill="#000" />
<rect x="1208" y="525" width="11" height="4" fill="#000" />
<rect x="1209" y="526" width="9" height="2" fill="#fff" />
<rect x="1229" y="438" width="1" height="51" fill="#000" />
<rect x="1224" y="448" width="11" height="41" fill="#000" />
<rect x="1225" y="449" width="9" height="39" fill="#fff" />
<rect x="1245" y="436" width="1" height="14" fill="#000" />
<rect x="1240" y="442" width="11" height="6" fill="#000" />
<rect x="1241" y="443" width="9" height="4" fill="#fff" />
<rect x="1261" y="405" width="1" height="36" fill="#000" />
<rect x="1256" y="411" width="11" height="23" fill="#000" />
<rect x="1257" y="412" width="9" height="21" fill="#fff" />
<rect x="1277" y="404" width="1" height="14" fill="#000" />
<rect x="1272" y="411" width="11" height="2" fill="#000" />
<rect x="1293" y="427" width="1" height="51" fill="#000" />
<rect x="1288" y="427" width="11" height="45" fill="#000" />
<rect x="1309" y="470" width="1" height="21" fill="#000" />
<rect x="1304" y="470" width="11" height="19" fill="#000" />
<rect x="1325" y="491" width="1" height="55" fill="#000" />
<rect x="1320" y="499" width="11" height="13" fill="#000" />
<rect x="1341" y="478" width="1" height="44" fill="#000" />
<rect x="1336" y="484" width="11" height="28" fill="#000" />
<rect x="1337" y="485" width="9" height="26" fill="#fff" />
<rect x="1357" y="482" width="1" height="28" fill="#000" />
<rect x="1352" y="489" width="11" height="9" fill="#000" />
<rect x="1373" y="494" width="1" height="18" fill="#000" />
<rect x="1368" y="496" width="11" height="4" fill="#000" />
<rect x="1296" y="471" width="84" height="7" fill="#00ff00" />
</g>
<g class="c">
<rect x="1620.5" y="437.5" width="4" height="4" fill="#fff" stroke="#ff0000" stroke-width="1"/>
<rect x="1620.5" y="453.5" width="4" height="4" fill="#fff" stroke="#ff0000" stroke-width="1"/>
<rect x="1620.5" y="475.5" width="4" height="4" fill="#fff" stroke="#32cd32" stroke-width="1"/>
<rect x="1620.5" y="524.5" width="4" height="4" fill="#fff" stroke="#0000ff" stroke-width="1"/>
<rect x="1620.5" y="543.5" width="4" height="4" fill="#fff" stroke="#0000ff" stroke-width="1"/>
<rect x="-1.5" y="438.5" width="3" height="2" fill="#fff" stroke="#ff0000" stroke-width="1"/>
<rect x="-1.5" y="454.5" width="3" height="2" fill="#fff" stroke="#ff0000" stroke-width="1"/>
<rect x="-1.5" y="476.5" width="3" height="2" fill="#fff" stroke="#32cd32" stroke-width="1"/>
<rect x="-1.5" y="525.5" width="3" height="2" fill="#fff" stroke="#0000ff" stroke-width="1"/>
<rect x="-1.5" y="544.5" width="3" height="2" fill="#fff" stroke="#0000ff" stroke-width="1"/>
<rect x="1626" y="53" width="2" height="1" fill="#000" />
<rect x="1626" y="86" width="2" height="1" fill="#000" />
<rect x="1626" y="119" width="2" height="1" fill="#000" />
<rect x="1626" y="152" width="2" height="1" fill="#000" />
<rect x="1626" y="185" width="2" height="1" fill="#000" />
<rect x="1626" y="218" width="2" height="1" fill="#000" />
<rect x="1626" y="251" width="2" height="1" fill="#000" />
<rect x="1626" y="284" width="2" height="1" fill="#000" />
<rect x="1626" y="317" width="2" height="1" fill="#000" />
<rect x="1626" y="350" width="2" height="1" fill="#000" />
<rect x="1626" y="383" width="2" height="1" fill="#000" />
<rect x="1626" y="416" width="2" height="1" fill="#000" />
<rect x="1626" y="449" width="2" height="1" fill="#000" />
<rect x="1626" y="482" width="2" height="1" fill="#000" />
<rect x="1626" y="515" width="2" height="1" fill="#000" />
<rect x="1626" y="548" width="2" height="1" fill="#000" />
<rect x="1626" y="581" width="2" height="1" fill="#000" />
</g>
<text transform="translate(1630.6 57) scale(0.935 1)" font-size="10" fill="#000" >30369.0</text>
<text transform="translate(1630.6 90) scale(0.935 1)" font-size="10" fill="#000" >30124.0</text>
<text transform="translate(1630.6 123) scale(0.935 1)" font-size="10" fill="#000" >29872.0</text>
<text transform="translate(1630.6 156) scale(0.935 1)" font-size="10" fill="#000" >29627.0</text>
<text transform="translate(1630.6 189) scale(0.935 1)" font-size="10" fill="#000" >29382.0</text>
<text transform="translate(1630.6 222) scale(0.935 1)" font-size="10" fill="#000" >29137.0</text>
<text transform="translate(1630.6 255) scale(0.935 1)" font-size="10" fill="#000" >28892.0</text>
<text transform="translate(1630.6 288) scale(0.935 1)" font-size="10" fill="#000" >28640.0</text>
<text transform="translate(1630.6 321) scale(0.935 1)" font-size="10" fill="#000" >28395.0</text>
<text transform="translate(1630.6 354) scale(0.935 1)" font-size="10" fill="#000" >28150.0</text>
<text transform="translate(1630.6 387) scale(0.935 1)" font-size="10" fill="#000" >27905.0</text>
<text transform="translate(1630.6 420) scale(0.935 1)" font-size="10" fill="#000" >27660.0</text>
<text transform="translate(1630.6 453) scale(0.935 1)" font-size="10" fill="#000" >27408.0</text>
<text transform="translate(1630.6 486) scale(0.935 1)" font-size="10" fill="#000" >27163.0</text>
<text transform="translate(1630.6 519) scale(0.935 1)" font-size="10" fill="#000" >26918.0</text>
<text transform="translate(1630.6 552) scale(0.935 1)" font-size="10" fill="#000" >26673.0</text>
<text transform="translate(1630.6 585) scale(0.935 1)" font-size="10" fill="#000" >26428.0</text>
<g class="c">
<rect x="1627" y="433" width="41" height="11" fill="#ff0000" />
<rect x="1627" y="449" width="41" height="11" fill="#ff0000" />
<rect x="1627" y="471" width="41" height="11" fill="#32cd32" />
<rect x="1627" y="494" width="41" height="11" fill="#000000" />
<rect x="1627" y="520" width="41" height="11" fill="#0000ff" />
<rect x="1627" y="539" width="41" height="11" fill="#0000ff" />
</g>
<text transform="translate(1630.6 442) scale(0.935 1)" font-size="10" fill="#fff" >27487.7</text>
<text transform="translate(1630.6 458) scale(0.935 1)" font-size="10" fill="#fff" >27368.4</text>
<text transform="translate(1630.6 480) scale(0.935 1)" font-size="10" fill="#fff" >27204.5</text>
<text transform="translate(1630.6 503) scale(0.935 1)" font-size="10" fill="#fff" >27041.5</text>
<text transform="translate(1630.6 529) scale(0.935 1)" font-size="10" fill="#fff" >26839.3</text>
<text transform="translate(1630.6 548) scale(0.935 1)" font-size="10" fill="#fff" >26697.7</text>
<g class="c">
<rect x="1390" y="477" width="7" height="1" fill="#ff0000" />
<rect x="1397.5" y="475.5" width="2" height="3" fill="#fff" stroke="#ff0000"/>
<rect x="1400.5" y="465.5" width="73" height="24" fill="#fff" stroke="#ff0000"/>
</g>
<text x="1401.8" y="486" font-size="22.2" fill="#ff0000" textLength="71" lengthAdjust="spacingAndGlyphs">27204.5</text>
<text x="1083.4" y="504.3" font-size="30" font-weight="400" stroke="#000" stroke-width="0.7" textLength="161" lengthAdjust="spacingAndGlyphs" font-family="'Noto Serif CJK SC','Liberation Serif',serif" fill="#000">多空转折点</text>
<text x="1082.4" y="503.3" font-size="30" font-weight="400" stroke="#00ff00" stroke-width="0.7" textLength="161" lengthAdjust="spacingAndGlyphs" font-family="'Noto Serif CJK SC','Liberation Serif',serif" fill="#00ff00">多空转折点</text>
<polygon points="0.5,42 3.5,38.5 6.5,42" fill="#000"/>
<text x="12.5" y="42.5" font-size="10" fill="#000" textLength="187" lengthAdjust="spacingAndGlyphs">HK50-,H4&#160;&#160;27057.0 27073.0 26948.5 27041.5</text>
<g class="c">
<rect x="12" y="597" width="2" height="69" fill="#c0c0c0" />
<rect x="28" y="599" width="2" height="67" fill="#c0c0c0" />
<rect x="44" y="605" width="2" height="61" fill="#c0c0c0" />
<rect x="60" y="612" width="2" height="54" fill="#c0c0c0" />
<rect x="76" y="618" width="2" height="48" fill="#c0c0c0" />
<rect x="92" y="620" width="2" height="46" fill="#c0c0c0" />
<rect x="108" y="620" width="2" height="46" fill="#c0c0c0" />
<rect x="124" y="626" width="2" height="40" fill="#c0c0c0" />
<rect x="140" y="626" width="2" height="40" fill="#c0c0c0" />
<rect x="156" y="626" width="2" height="40" fill="#c0c0c0" />
<rect x="172" y="628" width="2" height="38" fill="#c0c0c0" />
<rect x="188" y="627" width="2" height="39" fill="#c0c0c0" />
<rect x="204" y="631" width="2" height="35" fill="#c0c0c0" />
<rect x="220" y="635" width="2" height="31" fill="#c0c0c0" />
<rect x="236" y="638" width="2" height="28" fill="#c0c0c0" />
<rect x="252" y="640" width="2" height="26" fill="#c0c0c0" />
<rect x="268" y="647" width="2" height="19" fill="#c0c0c0" />
<rect x="284" y="651" width="2" height="15" fill="#c0c0c0" />
<rect x="300" y="655" width="2" height="11" fill="#c0c0c0" />
<rect x="316" y="662" width="2" height="4" fill="#c0c0c0" />
<rect x="332" y="666" width="2" height="5" fill="#c0c0c0" />
<rect x="348" y="666" width="2" height="11" fill="#c0c0c0" />
<rect x="364" y="666" width="2" height="11" fill="#c0c0c0" />
<rect x="380" y="666" width="2" height="11" fill="#c0c0c0" />
<rect x="396" y="666" width="2" height="13" fill="#c0c0c0" />
<rect x="412" y="666" width="2" height="15" fill="#c0c0c0" />
<rect x="428" y="666" width="2" height="14" fill="#c0c0c0" />
<rect x="444" y="666" width="2" height="13" fill="#c0c0c0" />
<rect x="460" y="666" width="2" height="11" fill="#c0c0c0" />
<rect x="476" y="666" width="2" height="7" fill="#c0c0c0" />
<rect x="492" y="666" width="2" height="21" fill="#c0c0c0" />
<rect x="508" y="666" width="2" height="29" fill="#c0c0c0" />
<rect x="524" y="666" width="2" height="34" fill="#c0c0c0" />
<rect x="540" y="666" width="2" height="37" fill="#c0c0c0" />
<rect x="556" y="666" width="2" height="41" fill="#c0c0c0" />
<rect x="572" y="666" width="2" height="47" fill="#c0c0c0" />
<rect x="588" y="666" width="2" height="60" fill="#c0c0c0" />
<rect x="604" y="666" width="2" height="73" fill="#c0c0c0" />
<rect x="620" y="666" width="2" height="79" fill="#c0c0c0" />
<rect x="636" y="666" width="2" height="81" fill="#c0c0c0" />
<rect x="652" y="666" width="2" height="90" fill="#c0c0c0" />
<rect x="668" y="666" width="2" height="95" fill="#c0c0c0" />
<rect x="684" y="666" width="2" height="95" fill="#c0c0c0" />
<rect x="700" y="666" width="2" height="94" fill="#c0c0c0" />
<rect x="716" y="666" width="2" height="92" fill="#c0c0c0" />
<rect x="732" y="666" width="2" height="90" fill="#c0c0c0" />
<rect x="748" y="666" width="2" height="90" fill="#c0c0c0" />
<rect x="764" y="666" width="2" height="92" fill="#c0c0c0" />
<rect x="780" y="666" width="2" height="93" fill="#c0c0c0" />
<rect x="796" y="666" width="2" height="94" fill="#c0c0c0" />
<rect x="812" y="666" width="2" height="92" fill="#c0c0c0" />
<rect x="828" y="666" width="2" height="91" fill="#c0c0c0" />
<rect x="844" y="666" width="2" height="89" fill="#c0c0c0" />
<rect x="860" y="666" width="2" height="87" fill="#c0c0c0" />
<rect x="876" y="666" width="2" height="89" fill="#c0c0c0" />
<rect x="892" y="666" width="2" height="90" fill="#c0c0c0" />
<rect x="908" y="666" width="2" height="90" fill="#c0c0c0" />
<rect x="924" y="666" width="2" height="89" fill="#c0c0c0" />
<rect x="940" y="666" width="2" height="89" fill="#c0c0c0" />
<rect x="956" y="666" width="2" height="87" fill="#c0c0c0" />
<rect x="972" y="666" width="2" height="82" fill="#c0c0c0" />
<rect x="988" y="666" width="2" height="78" fill="#c0c0c0" />
<rect x="1004" y="666" width="2" height="78" fill="#c0c0c0" />
<rect x="1020" y="666" width="2" height="77" fill="#c0c0c0" />
<rect x="1036" y="666" width="2" height="78" fill="#c0c0c0" />
<rect x="1052" y="666" width="2" height="78" fill="#c0c0c0" />
<rect x="1068" y="666" width="2" height="77" fill="#c0c0c0" />
<rect x="1084" y="666" width="2" height="78" fill="#c0c0c0" />
<rect x="1100" y="666" width="2" height="81" fill="#c0c0c0" />
<rect x="1116" y="666" width="2" height="80" fill="#c0c0c0" />
<rect x="1132" y="666" width="2" height="80" fill="#c0c0c0" />
<rect x="1148" y="666" width="2" height="80" fill="#c0c0c0" />
<rect x="1164" y="666" width="2" height="75" fill="#c0c0c0" />
<rect x="1180" y="666" width="2" height="71" fill="#c0c0c0" />
<rect x="1196" y="666" width="2" height="66" fill="#c0c0c0" />
<rect x="1212" y="666" width="2" height="61" fill="#c0c0c0" />
<rect x="1228" y="666" width="2" height="47" fill="#c0c0c0" />
<rect x="1244" y="666" width="2" height="35" fill="#c0c0c0" />
<rect x="1260" y="666" width="2" height="21" fill="#c0c0c0" />
<rect x="1276" y="666" width="2" height="10" fill="#c0c0c0" />
<rect x="1292" y="666" width="2" height="9" fill="#c0c0c0" />
<rect x="1308" y="666" width="2" height="10" fill="#c0c0c0" />
<rect x="1324" y="666" width="2" height="14" fill="#c0c0c0" />
<rect x="1340" y="666" width="2" height="13" fill="#c0c0c0" />
<rect x="1356" y="666" width="2" height="14" fill="#c0c0c0" />
<rect x="1372" y="666" width="2" height="15" fill="#c0c0c0" />
<path d="M27 603.5h2M32 603.5h3M38 603.5h3M44 603.5h3M50 603.5h3M56 603.5h3M62 603.5h3M68 603.5h3M74 603.5h1M21 604.5h2M26 604.5h1M75 604.5h2M80 604.5h3M86 604.5h3M15 605.5h2M20 605.5h1M92 605.5h3M98 605.5h3M10 606.5h1M14 606.5h1M104 606.5h3M8 607.5h2M110 607.5h3M2 608.5h3M116 608.5h1M117 609.5h2M122 610.5h3M128 611.5h1M129 612.5h2M134 613.5h3M140 614.5h3M146 615.5h3M152 616.5h2M154 617.5h1M158 617.5h1M159 618.5h2M164 619.5h3M170 620.5h3M176 621.5h3M182 622.5h3M188 623.5h3M194 624.5h3M200 625.5h3M206 626.5h3M212 627.5h3M218 627.5h3M224 628.5h3M230 628.5h1M231 629.5h2M236 629.5h3M242 630.5h3M248 631.5h3M254 631.5h1M255 632.5h2M260 632.5h1M261 633.5h2M266 633.5h1M267 634.5h2M272 634.5h1M273 635.5h2M278 635.5h2M280 636.5h1M284 636.5h3M290 637.5h3M296 638.5h3M302 639.5h3M308 641.5h3M314 642.5h1M315 643.5h2M320 644.5h2M322 645.5h1M326 646.5h3M332 648.5h3M338 649.5h1M339 650.5h2M344 651.5h2M346 652.5h1M350 653.5h3M356 655.5h3M362 656.5h2M364 657.5h1M368 658.5h3M374 659.5h2M376 660.5h1M380 661.5h3M386 663.5h3M392 664.5h1M393 665.5h2M398 666.5h2M400 667.5h1M404 667.5h2M406 668.5h1M410 668.5h1M411 669.5h2M416 670.5h3M422 671.5h3M428 672.5h3M434 673.5h2M436 674.5h1M440 675.5h3M446 676.5h3M452 677.5h3M458 678.5h3M464 678.5h3M470 678.5h3M476 678.5h3M482 678.5h3M488 678.5h3M494 679.5h3M500 679.5h3M506 680.5h3M512 681.5h3M1371 681.5h2M518 682.5h3M524 682.5h2M1366 682.5h1M1370 682.5h1M526 683.5h1M530 683.5h3M1364 683.5h2M536 684.5h3M1358 684.5h3M542 685.5h1M1354 685.5h1M543 686.5h2M1352 686.5h2M548 687.5h2M550 688.5h1M554 688.5h1M1346 688.5h3M555 689.5h2M560 689.5h2M562 690.5h1M566 690.5h2M1340 690.5h3M568 691.5h1M572 691.5h1M573 692.5h2M1335 692.5h2M578 693.5h1M1334 693.5h1M579 694.5h2M1329 694.5h2M1328 695.5h1M584 696.5h3M1324 696.5h1M1322 697.5h2M590 698.5h3M1317 699.5h2M596 700.5h1M1316 700.5h1M597 701.5h2M1312 701.5h1M1310 702.5h2M602 703.5h1M603 704.5h2M1305 704.5h2M1304 705.5h1M608 706.5h1M1300 706.5h1M609 707.5h2M1298 707.5h2M614 709.5h1M1293 709.5h2M615 710.5h2M1292 710.5h1M620 712.5h1M1287 712.5h2M621 713.5h2M1286 713.5h1M626 715.5h2M1281 715.5h2M628 716.5h1M1280 716.5h1M632 717.5h1M633 718.5h2M1275 718.5h2M1274 719.5h1M638 720.5h3M1269 721.5h2M644 722.5h3M1268 722.5h1M1264 723.5h1M650 724.5h3M1262 724.5h2M656 726.5h1M1258 726.5h1M657 727.5h2M1256 727.5h2M662 729.5h2M1250 729.5h3M664 730.5h1M1245 731.5h2M668 732.5h3M1244 732.5h1M1239 733.5h2M674 734.5h2M1238 734.5h1M676 735.5h1M1232 735.5h3M680 736.5h1M1227 736.5h2M681 737.5h2M1226 737.5h1M1222 738.5h1M686 739.5h3M1220 739.5h2M1210 740.5h1M1214 740.5h3M692 741.5h2M1203 741.5h2M1208 741.5h2M694 742.5h1M1196 742.5h3M1202 742.5h1M698 743.5h2M1118 743.5h3M1124 743.5h1M1184 743.5h3M1190 743.5h3M700 744.5h1M1076 744.5h3M1082 744.5h3M1088 744.5h3M1094 744.5h3M1100 744.5h3M1106 744.5h3M1112 744.5h3M1125 744.5h2M1130 744.5h3M1136 744.5h3M1142 744.5h3M1148 744.5h3M1154 744.5h3M1160 744.5h3M1166 744.5h3M1172 744.5h3M1178 744.5h3M704 745.5h2M1070 745.5h3M706 746.5h1M1058 746.5h3M1064 746.5h3M710 747.5h2M1046 747.5h3M1052 747.5h3M712 748.5h1M1034 748.5h3M1040 748.5h3M716 749.5h3M1024 749.5h1M1028 749.5h3M722 750.5h1M1018 750.5h1M1022 750.5h2M723 751.5h2M1006 751.5h1M1010 751.5h3M1016 751.5h2M728 752.5h3M992 752.5h3M998 752.5h3M1004 752.5h2M734 753.5h3M974 753.5h3M980 753.5h3M986 753.5h3M740 754.5h3M944 754.5h3M950 754.5h3M956 754.5h3M962 754.5h3M968 754.5h3M746 755.5h3M752 755.5h3M920 755.5h3M926 755.5h3M932 755.5h3M938 755.5h3M758 756.5h3M764 756.5h3M770 756.5h3M866 756.5h3M872 756.5h3M878 756.5h3M884 756.5h3M890 756.5h3M896 756.5h3M902 756.5h3M908 756.5h3M914 756.5h3M776 757.5h3M782 757.5h3M812 757.5h3M818 757.5h3M824 757.5h3M830 757.5h3M836 757.5h3M842 757.5h3M848 757.5h3M854 757.5h3M860 757.5h3M788 758.5h3M802 758.5h1M806 758.5h3M794 759.5h3M800 759.5h2" fill="none" stroke="#ff0000"/>
<rect x="1626" y="666" width="2" height="1" fill="#000" />
<rect x="1626" y="588" width="2" height="1" fill="#000" />
<rect x="1626" y="768" width="2" height="1" fill="#000" />
<rect x="1626" y="773" width="2" height="1" fill="#000" />
<rect x="1626" y="931" width="2" height="1" fill="#000" />
</g>
<text x="1" y="599" font-size="10" fill="#000" textLength="123" lengthAdjust="spacingAndGlyphs">MACD(12,26,9) -63.93 -68.41</text>
<text transform="translate(1628.6 597) scale(0.935 1)" font-size="10" fill="#000" >373.18</text>
<text transform="translate(1628.6 670) scale(0.935 1)" font-size="10" fill="#000" >0.00</text>
<text transform="translate(1628.6 766) scale(0.935 1)" font-size="10" fill="#000" >-484.43</text>
<g class="c">
<line x1="0" y1="804.5" x2="1625" y2="804.5" stroke="#c0c0c0" stroke-width="1" stroke-dasharray="3 3" stroke-dashoffset="2"/>
<rect x="1626" y="804" width="2" height="1" fill="#000" />
<line x1="0" y1="851.5" x2="1625" y2="851.5" stroke="#c0c0c0" stroke-width="1" stroke-dasharray="3 3" stroke-dashoffset="2"/>
<rect x="1626" y="851" width="2" height="1" fill="#000" />
<line x1="0" y1="907.5" x2="1625" y2="907.5" stroke="#c0c0c0" stroke-width="1" stroke-dasharray="3 3" stroke-dashoffset="2"/>
<rect x="1626" y="907" width="2" height="1" fill="#000" />
<path d="M0 816.5h2M2 817.5h2M4 818.5h2M6 819.5h1M7 820.5h2M9 821.5h2M11 822.5h2M22 822.5h8M13 823.5h9M30 823.5h1M31 824.5h1M32 825.5h1M33 826.5h1M34 827.5h1M35 828.5h1M36 829.5h1M1261 829.5h9M37.5 830v2M108 830.5h2M1259 830.5h2M1270 830.5h8M106 831.5h2M110 831.5h1M1257 831.5h2M1278.5 831v2M38 832.5h1M104 832.5h2M111 832.5h1M1255 832.5h2M39 833.5h1M102 833.5h2M112 833.5h1M1254 833.5h1M1279 833.5h1M40 834.5h1M99 834.5h3M113 834.5h1M155 834.5h5M188 834.5h2M1252 834.5h2M1280 834.5h1M41 835.5h1M97 835.5h2M114 835.5h1M150 835.5h5M160 835.5h4M184 835.5h4M190 835.5h2M1250 835.5h2M1281.5 835v2M42 836.5h1M95 836.5h2M115 836.5h1M144 836.5h6M164 836.5h4M180 836.5h4M192 836.5h1M1248 836.5h2M43 837.5h1M92 837.5h3M116 837.5h1M141 837.5h3M168 837.5h4M176 837.5h4M193 837.5h2M1246 837.5h2M1282 837.5h1M44 838.5h1M90 838.5h2M117 838.5h1M139 838.5h2M172 838.5h4M195 838.5h1M1238 838.5h8M1283 838.5h1M45 839.5h5M88 839.5h2M118 839.5h1M137 839.5h2M196 839.5h2M1229 839.5h9M1284.5 839v2M50 840.5h8M86 840.5h2M119 840.5h1M135 840.5h2M198 840.5h1M1229 840.5h1M58 841.5h6M83 841.5h3M120 841.5h1M134 841.5h1M199 841.5h1M1228.5 841v2M1285 841.5h1M64 842.5h6M81 842.5h2M121 842.5h1M132 842.5h2M200 842.5h2M477.5 842v2M1286.5 842v2M70 843.5h5M79 843.5h2M122 843.5h1M130 843.5h2M202 843.5h1M475 843.5h2M1227.5 843v2M75 844.5h4M123 844.5h1M128 844.5h2M203 844.5h2M474 844.5h1M478.5 844v2M1287 844.5h1M124 845.5h1M126 845.5h2M205 845.5h9M230 845.5h24M472 845.5h2M1226.5 845v2M1288 845.5h1M125 846.5h1M214 846.5h16M254 846.5h1M470 846.5h2M479.5 846v2M1289.5 846v2M255 847.5h1M469 847.5h1M1225.5 847v2M256 848.5h2M467 848.5h2M480.5 848v3M1290 848.5h1M258 849.5h1M466 849.5h1M1224.5 849v3M1291 849.5h1M259 850.5h1M464 850.5h2M1292.5 850v2M260 851.5h1M462 851.5h2M481.5 851v2M261 852.5h1M454 852.5h8M1223.5 852v2M1293 852.5h2M262 853.5h1M438 853.5h16M482.5 853v3M1295 853.5h3M263 854.5h1M294 854.5h8M378 854.5h5M429 854.5h9M1222.5 854v2M1298 854.5h2M264 855.5h2M284 855.5h10M302 855.5h2M370 855.5h8M383 855.5h2M427 855.5h2M1300 855.5h3M1341 855.5h3M266 856.5h1M280 856.5h4M304 856.5h1M365 856.5h5M385 856.5h2M426 856.5h1M483.5 856v2M1221.5 856v2M1303 856.5h3M1339 856.5h2M1344 856.5h4M267 857.5h1M276 857.5h4M305 857.5h1M364 857.5h1M387 857.5h2M424 857.5h2M1306 857.5h2M1337 857.5h2M1348 857.5h4M268 858.5h1M272 858.5h4M306 858.5h2M363 858.5h1M389 858.5h2M422 858.5h2M484.5 858v2M1220.5 858v2M1308 858.5h3M1335 858.5h2M1352 858.5h4M269 859.5h3M308 859.5h1M362 859.5h1M391 859.5h2M421 859.5h1M1311 859.5h3M1334 859.5h1M1356 859.5h18M309 860.5h1M361 860.5h1M393 860.5h2M419 860.5h2M485.5 860v3M1219.5 860v2M1314 860.5h2M1332 860.5h2M310 861.5h2M360 861.5h1M395 861.5h2M418 861.5h1M1316 861.5h3M1330 861.5h2M312 862.5h1M359 862.5h1M397 862.5h5M416 862.5h2M1218.5 862v3M1319 862.5h3M1328 862.5h2M313 863.5h1M358 863.5h1M402 863.5h8M414 863.5h2M486.5 863v2M1322 863.5h2M1326 863.5h2M314 864.5h2M357 864.5h1M410 864.5h4M1324 864.5h2M316 865.5h1M356 865.5h1M487.5 865v2M1217.5 865v2M317 866.5h2M355 866.5h1M319 867.5h3M354 867.5h1M488.5 867v3M540 867.5h3M1216.5 867v2M322 868.5h2M353 868.5h1M536 868.5h4M543 868.5h3M324 869.5h3M352 869.5h1M532 869.5h4M546 869.5h4M1215.5 869v2M327 870.5h3M351 870.5h1M489.5 870v2M528 870.5h4M550 870.5h3M330 871.5h2M350 871.5h1M522 871.5h6M553 871.5h3M1214.5 871v2M332 872.5h18M490.5 872v3M514 872.5h8M556 872.5h4M508 873.5h6M560 873.5h6M1213.5 873v2M506 874.5h2M566 874.5h5M1210 874.5h3M491.5 875v2M504 875.5h2M571 875.5h3M973 875.5h5M1202 875.5h8M502 876.5h2M574 876.5h1M710 876.5h25M971 876.5h2M978 876.5h8M1165 876.5h9M1190 876.5h12M492.5 877v2M499 877.5h3M575 877.5h2M694 877.5h16M735 877.5h2M970 877.5h1M986 877.5h5M1164 877.5h1M1174 877.5h16M497 878.5h2M577 878.5h1M636 878.5h3M685 878.5h9M737 878.5h2M968 878.5h2M991 878.5h2M1163 878.5h1M493.5 879v2M495 879.5h2M578 879.5h1M632 879.5h4M639 879.5h2M683 879.5h2M739 879.5h3M967 879.5h1M993 879.5h2M1162.5 879v2M494 880.5h1M579 880.5h1M628 880.5h4M641 880.5h2M681 880.5h2M742 880.5h2M844 880.5h10M966 880.5h1M995 880.5h3M580 881.5h2M624 881.5h4M643 881.5h2M679 881.5h2M744 881.5h2M812 881.5h4M841 881.5h3M854 881.5h9M964 881.5h2M998 881.5h2M1161 881.5h1M582 882.5h1M621 882.5h3M645 882.5h2M677 882.5h2M746 882.5h2M810 882.5h2M816 882.5h4M838 882.5h3M863 882.5h2M963 882.5h1M1000 882.5h2M1160 882.5h1M583 883.5h1M619 883.5h2M647 883.5h2M675 883.5h2M748 883.5h6M807 883.5h3M820 883.5h4M834 883.5h4M865 883.5h2M961 883.5h2M1002 883.5h2M1159 883.5h1M584 884.5h1M617 884.5h2M649 884.5h2M673 884.5h2M754 884.5h8M804 884.5h3M824 884.5h4M831 884.5h3M867 884.5h2M960 884.5h1M1004 884.5h6M1158 884.5h1M585 885.5h1M615 885.5h2M651 885.5h2M671 885.5h2M762 885.5h12M802 885.5h2M828 885.5h3M869 885.5h2M922 885.5h6M958 885.5h2M1010 885.5h8M1157.5 885v2M586 886.5h2M613 886.5h2M653 886.5h18M774 886.5h16M799 886.5h3M871 886.5h2M914 886.5h8M928 886.5h6M954 886.5h4M1018 886.5h8M588 887.5h1M611 887.5h2M790 887.5h9M873 887.5h2M907 887.5h7M934 887.5h5M946 887.5h8M1026 887.5h8M1156 887.5h1M589 888.5h5M609 888.5h2M875 888.5h2M902 888.5h5M939 888.5h7M1034 888.5h12M1155 888.5h1M594 889.5h8M607 889.5h2M877 889.5h9M896 889.5h6M1046 889.5h25M1154 889.5h1M602 890.5h5M886 890.5h10M1071 890.5h3M1153 890.5h1M1074 891.5h4M1116 891.5h6M1152.5 891v2M1078 892.5h3M1113 892.5h3M1122 892.5h8M1081 893.5h3M1110 893.5h3M1130 893.5h8M1151 893.5h1M1084 894.5h6M1106 894.5h4M1138 894.5h8M1150 894.5h1M1090 895.5h8M1103 895.5h3M1146 895.5h4M1098 896.5h5" fill="none" stroke="#1e90ff"/>
</g>
<text x="1" y="784" font-size="10" fill="#000" textLength="67" lengthAdjust="spacingAndGlyphs">RSI(14) 45.3367</text>
<text transform="translate(1628.6 782) scale(0.935 1)" font-size="10" fill="#000" >100</text>
<text transform="translate(1628.6 808) scale(0.935 1)" font-size="10" fill="#000" >80</text>
<text transform="translate(1628.6 855) scale(0.935 1)" font-size="10" fill="#000" >50</text>
<text transform="translate(1628.6 911) scale(0.935 1)" font-size="10" fill="#000" >15</text>
<text transform="translate(1628.6 928) scale(0.935 1)" font-size="10" fill="#000" >0</text>
<g class="c">
<rect x="61" y="932" width="1" height="3" fill="#000" />
<rect x="125" y="932" width="1" height="3" fill="#000" />
<rect x="189" y="932" width="1" height="3" fill="#000" />
<rect x="253" y="932" width="1" height="3" fill="#000" />
<rect x="317" y="932" width="1" height="3" fill="#000" />
<rect x="381" y="932" width="1" height="3" fill="#000" />
<rect x="445" y="932" width="1" height="3" fill="#000" />
<rect x="509" y="932" width="1" height="3" fill="#000" />
<rect x="573" y="932" width="1" height="3" fill="#000" />
<rect x="637" y="932" width="1" height="3" fill="#000" />
<rect x="701" y="932" width="1" height="3" fill="#000" />
<rect x="765" y="932" width="1" height="3" fill="#000" />
<rect x="829" y="932" width="1" height="3" fill="#000" />
<rect x="893" y="932" width="1" height="3" fill="#000" />
<rect x="957" y="932" width="1" height="3" fill="#000" />
<rect x="1021" y="932" width="1" height="3" fill="#000" />
<rect x="1085" y="932" width="1" height="3" fill="#000" />
<rect x="1149" y="932" width="1" height="3" fill="#000" />
<rect x="1213" y="932" width="1" height="3" fill="#000" />
<rect x="1277" y="932" width="1" height="3" fill="#000" />
<rect x="1341" y="932" width="1" height="3" fill="#000" />
</g>
<g clip-path="url(#cd)">
<text transform="translate(-3 944) scale(0.935 1)" font-size="10" fill="#000" word-spacing="0.9">9 Apr 2019</text>
<text transform="translate(61 944) scale(0.935 1)" font-size="10" fill="#000" word-spacing="0.9">11 Apr 05:00</text>
<text transform="translate(125 944) scale(0.935 1)" font-size="10" fill="#000" word-spacing="0.9">15 Apr 05:00</text>
<text transform="translate(189 944) scale(0.935 1)" font-size="10" fill="#000" word-spacing="0.9">17 Apr 05:00</text>
<text transform="translate(253 944) scale(0.935 1)" font-size="10" fill="#000" word-spacing="0.9">23 Apr 05:00</text>
<text transform="translate(317 944) scale(0.935 1)" font-size="10" fill="#000" word-spacing="0.9">25 Apr 05:00</text>
<text transform="translate(381 944) scale(0.935 1)" font-size="10" fill="#000" word-spacing="0.9">29 Apr 05:00</text>
<text transform="translate(445 944) scale(0.935 1)" font-size="10" fill="#000" word-spacing="0.9">2 May 05:00</text>
<text transform="translate(509 944) scale(0.935 1)" font-size="10" fill="#000" word-spacing="0.9">6 May 05:00</text>
<text transform="translate(573 944) scale(0.935 1)" font-size="10" fill="#000" word-spacing="0.9">8 May 05:00</text>
<text transform="translate(637 944) scale(0.935 1)" font-size="10" fill="#000" word-spacing="0.9">10 May 05:00</text>
<text transform="translate(701 944) scale(0.935 1)" font-size="10" fill="#000" word-spacing="0.9">15 May 05:00</text>
<text transform="translate(765 944) scale(0.935 1)" font-size="10" fill="#000" word-spacing="0.9">17 May 05:00</text>
<text transform="translate(829 944) scale(0.935 1)" font-size="10" fill="#000" word-spacing="0.9">21 May 05:00</text>
<text transform="translate(893 944) scale(0.935 1)" font-size="10" fill="#000" word-spacing="0.9">23 May 05:00</text>
<text transform="translate(957 944) scale(0.935 1)" font-size="10" fill="#000" word-spacing="0.9">27 May 05:00</text>
<text transform="translate(1021 944) scale(0.935 1)" font-size="10" fill="#000" word-spacing="0.9">29 May 05:00</text>
<text transform="translate(1085 944) scale(0.935 1)" font-size="10" fill="#000" word-spacing="0.9">31 May 05:00</text>
<text transform="translate(1149 944) scale(0.935 1)" font-size="10" fill="#000" word-spacing="0.9">4 Jun 05:00</text>
<text transform="translate(1213 944) scale(0.935 1)" font-size="10" fill="#000" word-spacing="0.9">6 Jun 05:00</text>
<text transform="translate(1277 944) scale(0.935 1)" font-size="10" fill="#000" word-spacing="0.9">11 Jun 05:00</text>
<text transform="translate(1341 944) scale(0.935 1)" font-size="10" fill="#000" word-spacing="0.9">13 Jun 05:00</text>
</g>
<g class="c">
<rect x="0" y="50" width="221" height="67" fill="#fff"/>
<rect x="0" y="51" width="52" height="25" fill="url(#gtab)"/>
<rect x="167" y="51" width="52" height="25" fill="url(#gtab)"/>
<rect x="52" y="51" width="115" height="24" fill="#fff"/>
<rect x="0" y="75" width="109" height="40" fill="url(#gbig)"/>
<rect x="111" y="75" width="108" height="40" fill="url(#gbig)"/>
<rect x="109" y="75" width="2" height="40" fill="#fff"/>
<rect x="0" y="51" width="52" height="1" fill="#d03030"/><rect x="167" y="51" width="52" height="1" fill="#d03030"/>
<rect x="218" y="51" width="1" height="64" fill="#c02020"/><rect x="0" y="51" width="1" height="64" fill="#c83030"/>
<rect x="4" y="75" width="44" height="1" fill="#f08080"/><rect x="171" y="75" width="44" height="1" fill="#f08080"/>
<rect x="54.5" y="51.5" width="110" height="21" fill="#fff" stroke="#a0a0a0"/>
<rect x="55" y="52" width="20" height="20" fill="url(#gbtn)"/><rect x="75" y="52" width="1" height="20" fill="#b8b8b8"/>
<rect x="144" y="52" width="20" height="20" fill="url(#gbtn)"/><rect x="143" y="52" width="1" height="20" fill="#b8b8b8"/>
<polygon points="62,60 68,60 65,63.5" fill="#000"/><polygon points="151,63 157,63 154,59.5" fill="#000"/>
</g>
<text x="12.5" y="67" font-size="12" fill="#fff" textLength="25.5" lengthAdjust="spacingAndGlyphs">SELL</text>
<text x="180" y="67" font-size="12" fill="#fff" textLength="23.5" lengthAdjust="spacingAndGlyphs">BUY</text>
<text x="140" y="65.7" font-size="12.5" fill="#000" text-anchor="end">1.00</text>
<text x="16" y="105.5" font-size="12.3" font-weight="bold" fill="#fff" textLength="34" lengthAdjust="spacingAndGlyphs">27040</text>
<text x="126.3" y="105.5" font-size="12.3" font-weight="bold" fill="#fff" textLength="34" lengthAdjust="spacingAndGlyphs">27053</text>
<text x="53.5" y="105.7" font-size="31.5" fill="#fff">.</text><text x="61.6" y="105.8" font-size="33.5" fill="#fff" textLength="17.6" lengthAdjust="spacingAndGlyphs">0</text>
<text x="165" y="105.7" font-size="31.5" fill="#fff">.</text><text x="172.6" y="105.8" font-size="33.5" fill="#fff" textLength="17.6" lengthAdjust="spacingAndGlyphs">0</text>
<g><path d="M-2 7.5H4.5L7.5 10.5V16H-2Z" fill="#fafafa" stroke="#9a9a9a" stroke-width="1"/><path d="M4.5 7.5V10.5H7.5" fill="#e0e0e0" stroke="#9a9a9a"/><rect x="0" y="10" width="3" height="1" fill="#909090"/><rect x="0" y="12" width="5" height="1" fill="#909090"/><path d="M4.5 13H8.5V16.5H12V20.5H8.5V24.5H4.5V20.5H-1V16.5H4.5Z" fill="#22c82a" stroke="#0a8a10" stroke-width="1"/><path d="M5.5 14H7.5V17.5H11" stroke="#8af08e" fill="none"/></g>
<text x="15" y="17.6" font-size="12" fill="#000">新订单</text>
<g><path d="M71.3 22.8L79 16.2L79 17.8L71.5 24.3L63 18.2L63 16.7Z" fill="#c4902a" stroke="#8a5c12" stroke-width="0.7" stroke-linejoin="round"/><path d="M64 17.9L71.5 23.3L78.6 17.2" stroke="#fff4c4" stroke-width="0.6" fill="none"/><path d="M69.2 8L79 16.2L71.3 22.8L63 16.7Q66.5 13 69.2 8Z" fill="url(#gbook)" stroke="#9a6a14" stroke-width="0.9" stroke-linejoin="round"/></g>
<g><path d="M93.5 8.5L96 7H104.5V17H93.5Z" fill="#2c92ee" stroke="#1668c8" stroke-width="1"/><path d="M96.5 8.5H103.5V15H96.5Z" fill="#58b4ff"/><rect x="98" y="10" width="5" height="1" fill="#fff"/><rect x="98" y="12.5" width="4" height="1" fill="#d6ecff"/><path d="M94.2 22.3Q91 22.3 91.2 19.5Q91.5 17.3 94.2 17.3Q95 15 97.8 15.3Q100 15.3 100.8 17.2Q102.2 15.8 104 16.8Q105.3 17.6 105 18.8Q107 19.2 106.8 20.8Q106.5 22.3 104.5 22.3Z" fill="#e6ecf6" stroke="#7d98cc" stroke-width="1"/></g>
<g fill="none" stroke-width="1.3"><circle cx="127" cy="14.7" r="7.6" stroke="#9db2e6"/><circle cx="127" cy="14.7" r="5" stroke="#6f8fdc"/><circle cx="127" cy="14.7" r="2.6" stroke="#4c74d4"/><path d="M127 22.3A7.6 7.6 0 0 0 133 10" stroke="#69b36b" stroke-width="1.6"/><path d="M127 19.7A5 5 0 0 0 131 11.7" stroke="#58a85a"/><circle cx="127" cy="14.7" r="1.4" fill="#2a57c8" stroke="none"/><rect x="126.3" y="15" width="1.6" height="7.6" fill="#2fa336" stroke="none"/></g>
<g><path d="M146.5 14L154 23L157 19L161.5 14Z" fill="#f5d742" stroke="#c89a1a" stroke-width="1" stroke-linejoin="round"/><path d="M148.5 15L154 21.5L155 15Z" fill="#fdf0a0"/><path d="M146.3 12.2Q146 10 150 9.6Q150.5 7 153.8 7Q157.2 7 157.7 9.4Q162 9.6 161.8 11.6Q161 14.4 154 14.4Q147 14.4 146.3 12.2Z" fill="#5aa8dc" stroke="#2f7cb6" stroke-width="1"/><path d="M150.6 9.8Q151 8 153.8 8Q156.4 8 157 9.6Q154 10.8 150.6 9.8Z" fill="#9ad0f2"/><circle cx="158.6" cy="18.8" r="4.2" fill="#e02814" stroke="#b01408" stroke-width="0.8"/><rect x="156.8" y="17" width="3.6" height="3.6" fill="#fff"/></g>
<text x="167.5" y="17.6" font-size="12" fill="#000" textLength="47" lengthAdjust="spacing">自动交易</text>
<rect class="c" x="222" y="4" width="1" height="21" fill="#a0a0a0"/><rect class="c" x="223" y="4" width="1" height="21" fill="#fbfbfb"/>
<g class="c">
<rect x="226" y="5" width="3" height="1" fill="#b4b4b4"/>
<rect x="226" y="7" width="3" height="1" fill="#b4b4b4"/>
<rect x="226" y="9" width="3" height="1" fill="#b4b4b4"/>
<rect x="226" y="11" width="3" height="1" fill="#b4b4b4"/>
<rect x="226" y="13" width="3" height="1" fill="#b4b4b4"/>
<rect x="226" y="15" width="3" height="1" fill="#b4b4b4"/>
<rect x="226" y="17" width="3" height="1" fill="#b4b4b4"/>
<rect x="226" y="19" width="3" height="1" fill="#b4b4b4"/>
<rect x="226" y="21" width="3" height="1" fill="#b4b4b4"/>
<rect x="226" y="23" width="3" height="1" fill="#b4b4b4"/>
</g>
<g class="c" fill="#505050"><rect x="240" y="9" width="1" height="14"/><rect x="238" y="20" width="14" height="1"/><rect x="239" y="10" width="3" height="1"/><rect x="250" y="19" width="1" height="3"/></g>
<g class="c" fill="#0e860e"><rect x="246" y="10" width="1" height="9"/><rect x="244" y="17" width="2" height="1"/><rect x="247" y="11" width="2" height="1"/></g>
<g class="c"><rect x="260" y="3" width="26" height="23" fill="#fff"/><rect x="260" y="3" width="25" height="22" fill="url(#chk)"/><rect x="260" y="3" width="25" height="1" fill="#a0a0a0"/><rect x="260" y="3" width="1" height="22" fill="#a0a0a0"/></g>
<g class="c" fill="#505050"><rect x="268" y="9" width="1" height="14"/><rect x="266" y="20" width="14" height="1"/><rect x="267" y="10" width="3" height="1"/><rect x="278" y="19" width="1" height="3"/></g>
<g class="c"><rect x="274" y="7" width="1" height="12" fill="#0a8a0a"/><rect x="272" y="9" width="5" height="8" fill="#0a8a0a"/><rect x="273" y="10" width="3" height="6" fill="#3ce650"/><rect x="273" y="10" width="1" height="6" fill="#8cf89a"/></g>
<g class="c" fill="#505050"><rect x="296" y="9" width="1" height="14"/><rect x="294" y="20" width="14" height="1"/><rect x="295" y="10" width="3" height="1"/><rect x="306" y="19" width="1" height="3"/></g>
<path d="M295.300 17.700Q298.600 11.300 301.400 12.300Q303.900 13.300 306.600 16.100" fill="none" stroke="#2a8a2a" stroke-width="1.2"/>
<rect class="c" x="317" y="4" width="1" height="21" fill="#a0a0a0"/><rect class="c" x="318" y="4" width="1" height="21" fill="#fbfbfb"/>
<g><path d="M336.2 17.2L340.1 20.8" stroke="#a87412" stroke-width="3.4" stroke-linecap="square"/><path d="M336.2 17.2L340.1 20.8" stroke="#f4d64e" stroke-width="1.8" stroke-linecap="square"/><circle cx="332" cy="13" r="5.6" fill="#d6eefb" stroke="#3474c4" stroke-width="1.3"/><rect x="328.5" y="12.2" width="7" height="1.7" fill="#3f88b4"/><rect x="331.15" y="9.5" width="1.7" height="7" fill="#3f88b4"/></g>
<g><path d="M364.2 17.2L368.1 20.8" stroke="#a87412" stroke-width="3.4" stroke-linecap="square"/><path d="M364.2 17.2L368.1 20.8" stroke="#f4d64e" stroke-width="1.8" stroke-linecap="square"/><circle cx="360" cy="13" r="5.6" fill="#d6eefb" stroke="#3474c4" stroke-width="1.3"/><rect x="356.5" y="12.2" width="7" height="1.7" fill="#3f88b4"/></g>
<g class="c">
<rect x="382" y="7" width="8" height="8" fill="#3a9a1a"/><rect x="383" y="10" width="6" height="4" fill="#fff"/><rect x="384" y="11" width="4" height="1" fill="#a8dc90"/><rect x="384" y="13" width="4" height="1" fill="#3a9a1a"/><rect x="383" y="8" width="1" height="1" fill="#fff"/>
<rect x="390" y="7" width="8" height="8" fill="#1a4cc8"/><rect x="391" y="10" width="6" height="4" fill="#fff"/><rect x="392" y="11" width="4" height="1" fill="#9ab4f0"/><rect x="392" y="13" width="4" height="1" fill="#1a4cc8"/><rect x="391" y="8" width="1" height="1" fill="#fff"/>
<rect x="382" y="15" width="8" height="8" fill="#1a4cc8"/><rect x="383" y="18" width="6" height="4" fill="#fff"/><rect x="384" y="19" width="4" height="1" fill="#9ab4f0"/><rect x="384" y="21" width="4" height="1" fill="#1a4cc8"/><rect x="383" y="16" width="1" height="1" fill="#fff"/>
<rect x="390" y="15" width="8" height="8" fill="#3a9a1a"/><rect x="391" y="18" width="6" height="4" fill="#fff"/><rect x="392" y="19" width="4" height="1" fill="#a8dc90"/><rect x="392" y="21" width="4" height="1" fill="#3a9a1a"/><rect x="391" y="16" width="1" height="1" fill="#fff"/>
</g>
<rect class="c" x="407" y="4" width="1" height="21" fill="#a0a0a0"/><rect class="c" x="408" y="4" width="1" height="21" fill="#fbfbfb"/>
<g class="c"><rect x="412" y="3" width="26" height="23" fill="#fff"/><rect x="412" y="3" width="25" height="22" fill="url(#chk)"/><rect x="412" y="3" width="25" height="1" fill="#a0a0a0"/><rect x="412" y="3" width="1" height="22" fill="#a0a0a0"/></g>
<g class="c" fill="#505050"><rect x="420" y="9" width="1" height="14"/><rect x="418" y="20" width="14" height="1"/><rect x="419" y="10" width="3" height="1"/><rect x="430" y="19" width="1" height="3"/></g>
<polygon points="425,11 425,17.5 429.5,14.2" fill="#22c030" stroke="#0a8a18" stroke-width="0.8"/>
<g class="c"><rect x="440" y="3" width="26" height="23" fill="#fff"/><rect x="440" y="3" width="25" height="22" fill="url(#chk)"/><rect x="440" y="3" width="25" height="1" fill="#a0a0a0"/><rect x="440" y="3" width="1" height="22" fill="#a0a0a0"/></g>
<g class="c" fill="#505050"><rect x="448" y="9" width="1" height="14"/><rect x="446" y="20" width="14" height="1"/><rect x="447" y="10" width="3" height="1"/><rect x="458" y="19" width="1" height="3"/></g>
<g class="c"><rect x="454" y="9" width="1" height="10" fill="#2a6ac0"/><rect x="456" y="14" width="4" height="1" fill="#d84010"/></g><polygon points="455.5,14.5 458.5,12 458.5,17" fill="#d84010"/>
<rect class="c" x="469" y="4" width="1" height="21" fill="#a0a0a0"/><rect class="c" x="470" y="4" width="1" height="21" fill="#fbfbfb"/>
<g><path d="M479.5 7.5H486L489.5 11V20.500H479.5Z" fill="#fafafa" stroke="#8a8a8a"/><path d="M486 7.500V11H489.5" fill="#e4e4e4" stroke="#8a8a8a"/><text x="481.3" y="16.5" font-size="8" font-style="italic" fill="#606060" font-family="'Liberation Serif',serif">f</text><path d="M486.500 13.500H490.500V17H494.500V21H490.500V24.500H486.500V21H483V17H486.500Z" fill="#22c82a" stroke="#0a8a10"/><path d="M487.5 14.5H489.5V18H493.5" stroke="#8af08e" fill="none"/></g>
<polygon points="501,14 506,14 503.5,17" fill="#000"/>
<g><circle cx="525" cy="14.7" r="7.2" fill="#f4f8fc" stroke="#1c5fc4" stroke-width="2.2"/><circle cx="525" cy="14.7" r="8.2" fill="none" stroke="#5a9af0" stroke-width="0.6"/><path d="M525 10.500V15H528.5" fill="none" stroke="#303030" stroke-width="1.1"/><circle cx="525" cy="10" r="0.5" fill="#888"/><circle cx="525" cy="19.500" r="0.5" fill="#888"/><circle cx="520.3" cy="14.7" r="0.5" fill="#888"/><circle cx="529.7" cy="14.7" r="0.5" fill="#888"/></g>
<polygon points="540,14 545,14 542.5,17" fill="#000"/>
<g class="c"><rect x="556" y="8" width="16" height="14" fill="#fff" stroke="#3f74c8"/><rect x="556" y="8" width="16" height="2" fill="#5a94e4"/><rect x="556" y="15" width="16" height="1" fill="#3f74c8"/></g><path d="M558 13.500L561 12.500L563 13L566 11.500L568 12L570 11" fill="none" stroke="#b83018" stroke-width="1.1"/><path d="M558 19.500L561 18.500L563 19.500L566 17.500L568 19L570 18" fill="none" stroke="#1a9a2a" stroke-width="1.1"/>
<polygon points="579,14 584,14 581.5,17" fill="#000"/>
<rect class="c" x="590" y="4" width="1" height="21" fill="#a0a0a0"/><rect class="c" x="591" y="4" width="1" height="21" fill="#fbfbfb"/>
<g class="c">
<rect x="594" y="5" width="3" height="1" fill="#b4b4b4"/>
<rect x="594" y="7" width="3" height="1" fill="#b4b4b4"/>
<rect x="594" y="9" width="3" height="1" fill="#b4b4b4"/>
<rect x="594" y="11" width="3" height="1" fill="#b4b4b4"/>
<rect x="594" y="13" width="3" height="1" fill="#b4b4b4"/>
<rect x="594" y="15" width="3" height="1" fill="#b4b4b4"/>
<rect x="594" y="17" width="3" height="1" fill="#b4b4b4"/>
<rect x="594" y="19" width="3" height="1" fill="#b4b4b4"/>
<rect x="594" y="21" width="3" height="1" fill="#b4b4b4"/>
<rect x="594" y="23" width="3" height="1" fill="#b4b4b4"/>
</g>
<g class="c"><rect x="600" y="3" width="26" height="23" fill="#fff"/><rect x="600" y="3" width="25" height="22" fill="url(#chk)"/><rect x="600" y="3" width="25" height="1" fill="#a0a0a0"/><rect x="600" y="3" width="1" height="22" fill="#a0a0a0"/></g>
<path d="M608 7.500V20L611 17.200L613.200 22L615.200 21L613 16.400H616.800Z" fill="#404040"/>
<g class="c" fill="#404040"><rect x="640" y="8" width="1" height="5"/><rect x="640" y="16" width="1" height="6"/><rect x="633" y="14" width="6" height="1"/><rect x="642" y="14" width="6" height="1"/></g>
<rect class="c" x="657" y="4" width="1" height="21" fill="#a0a0a0"/><rect class="c" x="658" y="4" width="1" height="21" fill="#fbfbfb"/>
<g class="c" fill="#505050"><rect x="674" y="9" width="1" height="13"/><rect x="697" y="15" width="12" height="1"/></g>
<path d="M725 21.700L737 9.800" stroke="#505050" stroke-width="1.1" fill="none"/>
<g stroke="#505050" stroke-width="1" fill="none"><path d="M750.800 16.600L765 9.200"/><path d="M752 21.400L765.800 14.200"/><path d="M753.300 22.600L756.300 12M756.500 21L759.500 10.400M759.700 19.400L762.500 9M762.700 17.800L765 7.600" stroke-width="0.9"/></g>
<text x="761.5" y="24" font-size="6.5" font-weight="bold" fill="#404040">E</text>
<g class="c">
<rect x="780" y="8" width="1" height="1" fill="#606060"/>
<rect x="782" y="8" width="1" height="1" fill="#606060"/>
<rect x="784" y="8" width="1" height="1" fill="#606060"/>
<rect x="786" y="8" width="1" height="1" fill="#606060"/>
<rect x="788" y="8" width="1" height="1" fill="#606060"/>
<rect x="790" y="8" width="1" height="1" fill="#606060"/>
<rect x="792" y="8" width="1" height="1" fill="#606060"/>
<rect x="780" y="11" width="1" height="1" fill="#606060"/>
<rect x="782" y="11" width="1" height="1" fill="#606060"/>
<rect x="784" y="11" width="1" height="1" fill="#606060"/>
<rect x="786" y="11" width="1" height="1" fill="#606060"/>
<rect x="788" y="11" width="1" height="1" fill="#606060"/>
<rect x="790" y="11" width="1" height="1" fill="#606060"/>
<rect x="792" y="11" width="1" height="1" fill="#606060"/>
<rect x="780" y="15" width="1" height="1" fill="#606060"/>
<rect x="782" y="15" width="1" height="1" fill="#606060"/>
<rect x="784" y="15" width="1" height="1" fill="#606060"/>
<rect x="786" y="15" width="1" height="1" fill="#606060"/>
<rect x="788" y="15" width="1" height="1" fill="#606060"/>
<rect x="790" y="15" width="1" height="1" fill="#606060"/>
<rect x="792" y="15" width="1" height="1" fill="#606060"/>
<rect x="780" y="19" width="1" height="1" fill="#606060"/>
<rect x="782" y="19" width="1" height="1" fill="#606060"/>
<rect x="784" y="19" width="1" height="1" fill="#606060"/>
<rect x="786" y="19" width="1" height="1" fill="#606060"/>
<rect x="788" y="19" width="1" height="1" fill="#606060"/>
<rect x="790" y="19" width="1" height="1" fill="#606060"/>
<rect x="792" y="19" width="1" height="1" fill="#606060"/>
</g><text x="789.500" y="24" font-size="6.5" font-weight="bold" fill="#404040">F</text>
<text x="810.3" y="19.5" font-size="11.8" fill="#505050" stroke="#505050" stroke-width="0.35">A</text>
<rect x="836.5" y="8.500" width="12" height="13" fill="none" stroke="#606060" stroke-dasharray="1 1" class="c"/><text x="838" y="19.7" font-size="11.3" font-weight="bold" fill="#505050" textLength="9.2" lengthAdjust="spacingAndGlyphs">T</text>
<g fill="#404040"><polygon points="867.500,8.800 871.600,12.800 863.400,12.800"/><polygon points="874.500,22 870.400,17.800 878.600,17.800"/><path d="M866 15L869 18L875.500 12.500" stroke="#404040" stroke-width="1.3" fill="none"/></g>
<polygon points="885,14 890,14 887.5,17" fill="#000"/>
<rect class="c" x="896" y="4" width="1" height="21" fill="#a0a0a0"/><rect class="c" x="897" y="4" width="1" height="21" fill="#fbfbfb"/>
<g class="c">
<rect x="900" y="5" width="3" height="1" fill="#b4b4b4"/>
<rect x="900" y="7" width="3" height="1" fill="#b4b4b4"/>
<rect x="900" y="9" width="3" height="1" fill="#b4b4b4"/>
<rect x="900" y="11" width="3" height="1" fill="#b4b4b4"/>
<rect x="900" y="13" width="3" height="1" fill="#b4b4b4"/>
<rect x="900" y="15" width="3" height="1" fill="#b4b4b4"/>
<rect x="900" y="17" width="3" height="1" fill="#b4b4b4"/>
<rect x="900" y="19" width="3" height="1" fill="#b4b4b4"/>
<rect x="900" y="21" width="3" height="1" fill="#b4b4b4"/>
<rect x="900" y="23" width="3" height="1" fill="#b4b4b4"/>
</g>
<g class="c"><rect x="1046" y="3" width="27" height="23" fill="#fff"/><rect x="1046" y="3" width="26" height="22" fill="url(#chk)"/><rect x="1046" y="3" width="26" height="1" fill="#a0a0a0"/><rect x="1046" y="3" width="1" height="22" fill="#a0a0a0"/></g>
<text x="917.9" y="18.5" font-size="9.4" fill="#404040" text-anchor="middle">M1</text>
<text x="945.9" y="18.5" font-size="9.4" fill="#404040" text-anchor="middle">M5</text>
<text x="974.4" y="18.5" font-size="9.4" fill="#404040" text-anchor="middle">M15</text>
<text x="1002.3" y="18.5" font-size="9.4" fill="#404040" text-anchor="middle">M30</text>
<text x="1030.5" y="18.5" font-size="9.4" fill="#404040" text-anchor="middle">H1</text>
<text x="1057.7" y="18.5" font-size="9.4" fill="#404040" text-anchor="middle">H4</text>
<text x="1086.5" y="18.5" font-size="9.4" fill="#404040" text-anchor="middle">D1</text>
<text x="1115.1" y="18.5" font-size="9.4" fill="#404040" text-anchor="middle">W1</text>
<text x="1142" y="18.5" font-size="9.4" fill="#404040" text-anchor="middle">MN</text>
<rect class="c" x="1157" y="4" width="1" height="21" fill="#a0a0a0"/><rect class="c" x="1158" y="4" width="1" height="21" fill="#fbfbfb"/>
<g><circle cx="1628" cy="12.300" r="3.8" fill="#f4f8ff" stroke="#2a5fd0" stroke-width="1.6"/><path d="M1625.300 15.300L1620.500 19.600" stroke="#2a5fd0" stroke-width="2.4" stroke-linecap="round"/></g>
<g><ellipse cx="1659.500" cy="12.500" rx="6" ry="4.6" fill="url(#gchat)" stroke="#a8a8a8"/><path d="M1662 16.500L1664.500 19L1660 17" fill="#f0f0f0" stroke="#a8a8a8" stroke-width="0.8"/><ellipse cx="1651.500" cy="16.5" rx="4.800" ry="3.600" fill="url(#gchat)" stroke="#a0a0a0"/><path d="M1649.500 19L1648 21.500L1652 19.500" fill="#f8f8f8" stroke="#a0a0a0" stroke-width="0.8"/></g>
</svg></body></html>
